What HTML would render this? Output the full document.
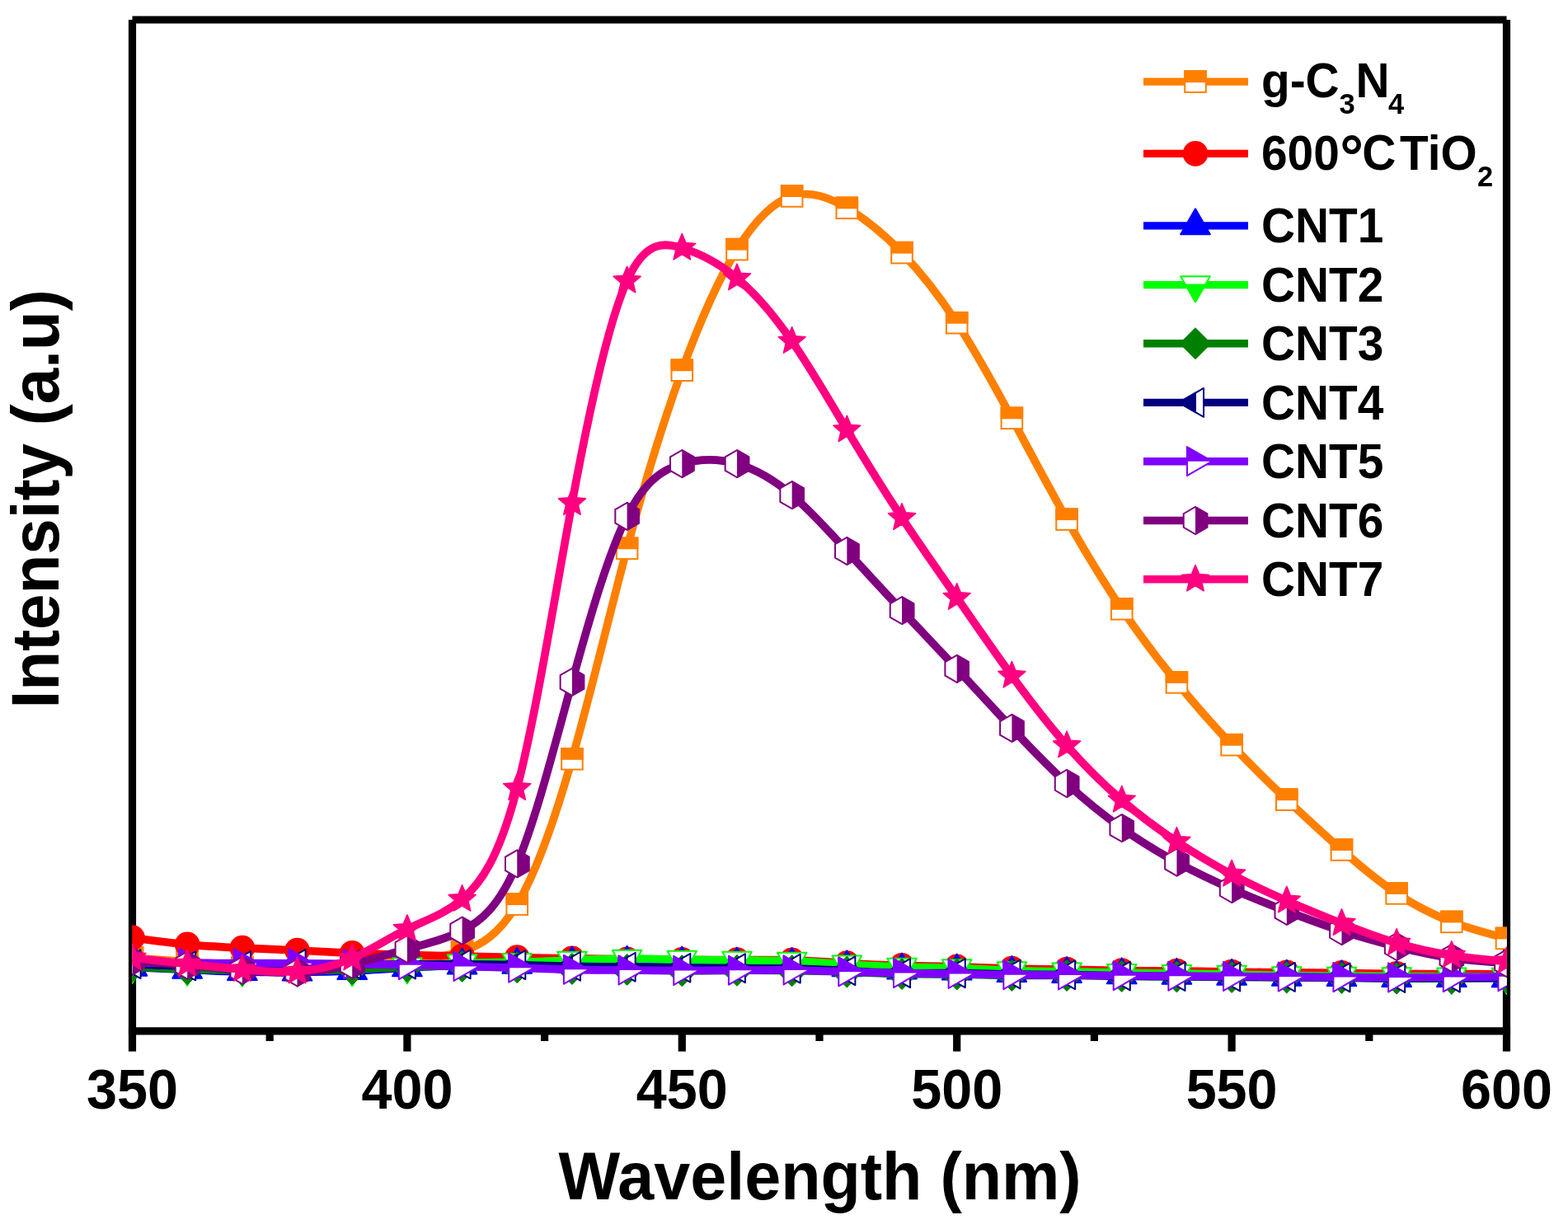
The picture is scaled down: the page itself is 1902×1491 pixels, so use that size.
<!DOCTYPE html>
<html><head><meta charset="utf-8"><title>PL spectra</title>
<style>html,body{margin:0;padding:0;background:#fff;overflow:hidden;}svg{display:block;}</style>
</head><body>
<svg width="1902" height="1491" viewBox="0 0 1902 1491">
<rect width="1902" height="1491" fill="#fff"/>
<defs><clipPath id="pa"><rect x="160.3" y="24.0" width="1667.6" height="1226.8"/></clipPath></defs>
<line x1="160.5" y1="24.0" x2="1827.5" y2="24.0" stroke="#000" stroke-width="9.2"/>
<line x1="160.5" y1="24.0" x2="160.5" y2="1250.8" stroke="#000" stroke-width="9.2"/>
<line x1="1827.5" y1="24.0" x2="1827.5" y2="1250.8" stroke="#000" stroke-width="9.2"/>
<line x1="155.9" y1="1250.8" x2="1832.1" y2="1250.8" stroke="#000" stroke-width="9.2"/>
<line x1="160.50" y1="1250.8" x2="160.50" y2="1275.6" stroke="#000" stroke-width="9.2"/>
<line x1="327.20" y1="1250.8" x2="327.20" y2="1263.0" stroke="#000" stroke-width="9.2"/>
<line x1="493.90" y1="1250.8" x2="493.90" y2="1275.6" stroke="#000" stroke-width="9.2"/>
<line x1="660.60" y1="1250.8" x2="660.60" y2="1263.0" stroke="#000" stroke-width="9.2"/>
<line x1="827.30" y1="1250.8" x2="827.30" y2="1275.6" stroke="#000" stroke-width="9.2"/>
<line x1="994.00" y1="1250.8" x2="994.00" y2="1263.0" stroke="#000" stroke-width="9.2"/>
<line x1="1160.70" y1="1250.8" x2="1160.70" y2="1275.6" stroke="#000" stroke-width="9.2"/>
<line x1="1327.40" y1="1250.8" x2="1327.40" y2="1263.0" stroke="#000" stroke-width="9.2"/>
<line x1="1494.10" y1="1250.8" x2="1494.10" y2="1275.6" stroke="#000" stroke-width="9.2"/>
<line x1="1660.80" y1="1250.8" x2="1660.80" y2="1263.0" stroke="#000" stroke-width="9.2"/>
<line x1="1827.50" y1="1250.8" x2="1827.50" y2="1275.6" stroke="#000" stroke-width="9.2"/>
<g clip-path="url(#pa)">
<path d="M160.50,1162.00C182.73,1163.50 204.95,1165.01 227.18,1167.00C249.41,1168.99 271.63,1171.48 293.86,1173.70C316.09,1175.92 338.31,1177.88 360.54,1177.80C382.77,1177.72 404.99,1175.62 427.22,1173.00C449.45,1170.38 471.67,1167.26 493.90,1165.00C516.13,1162.74 538.35,1161.34 560.58,1154.20C582.81,1147.06 605.03,1134.20 627.26,1097.10C649.49,1060.00 671.71,998.67 693.94,920.80C716.17,842.93 738.39,748.50 760.62,665.30C782.85,582.10 805.07,510.11 827.30,449.20C849.53,388.29 871.75,338.45 893.98,302.60C916.21,266.75 938.43,244.89 960.66,238.00C982.89,231.11 1005.11,239.19 1027.34,252.30C1049.57,265.41 1071.79,283.55 1094.02,306.60C1116.25,329.65 1138.47,357.59 1160.70,391.70C1182.93,425.81 1205.15,466.07 1227.38,507.30C1249.61,548.53 1271.83,590.74 1294.06,630.10C1316.29,669.46 1338.51,705.98 1360.74,738.80C1382.97,771.62 1405.19,800.75 1427.42,827.90C1449.65,855.05 1471.87,880.21 1494.10,903.70C1516.33,927.19 1538.55,949.01 1560.78,970.10C1583.01,991.19 1605.23,1011.54 1627.46,1031.00C1649.69,1050.46 1671.91,1069.03 1694.14,1083.90C1716.37,1098.77 1738.59,1109.93 1760.82,1118.40C1783.05,1126.87 1805.27,1132.63 1827.50,1138.40" fill="none" stroke="#FF8000" stroke-width="9.7" stroke-linejoin="round"/>
<rect x="147.70" y="1149.20" width="25.60" height="25.60" fill="#fff" stroke="#FF8000" stroke-width="2.0"/><rect x="146.70" y="1148.20" width="27.60" height="14.80" fill="#FF8000"/>
<rect x="214.38" y="1154.20" width="25.60" height="25.60" fill="#fff" stroke="#FF8000" stroke-width="2.0"/><rect x="213.38" y="1153.20" width="27.60" height="14.80" fill="#FF8000"/>
<rect x="281.06" y="1160.90" width="25.60" height="25.60" fill="#fff" stroke="#FF8000" stroke-width="2.0"/><rect x="280.06" y="1159.90" width="27.60" height="14.80" fill="#FF8000"/>
<rect x="347.74" y="1165.00" width="25.60" height="25.60" fill="#fff" stroke="#FF8000" stroke-width="2.0"/><rect x="346.74" y="1164.00" width="27.60" height="14.80" fill="#FF8000"/>
<rect x="414.42" y="1160.20" width="25.60" height="25.60" fill="#fff" stroke="#FF8000" stroke-width="2.0"/><rect x="413.42" y="1159.20" width="27.60" height="14.80" fill="#FF8000"/>
<rect x="481.10" y="1152.20" width="25.60" height="25.60" fill="#fff" stroke="#FF8000" stroke-width="2.0"/><rect x="480.10" y="1151.20" width="27.60" height="14.80" fill="#FF8000"/>
<rect x="547.78" y="1141.40" width="25.60" height="25.60" fill="#fff" stroke="#FF8000" stroke-width="2.0"/><rect x="546.78" y="1140.40" width="27.60" height="14.80" fill="#FF8000"/>
<rect x="614.46" y="1084.30" width="25.60" height="25.60" fill="#fff" stroke="#FF8000" stroke-width="2.0"/><rect x="613.46" y="1083.30" width="27.60" height="14.80" fill="#FF8000"/>
<rect x="681.14" y="908.00" width="25.60" height="25.60" fill="#fff" stroke="#FF8000" stroke-width="2.0"/><rect x="680.14" y="907.00" width="27.60" height="14.80" fill="#FF8000"/>
<rect x="747.82" y="652.50" width="25.60" height="25.60" fill="#fff" stroke="#FF8000" stroke-width="2.0"/><rect x="746.82" y="651.50" width="27.60" height="14.80" fill="#FF8000"/>
<rect x="814.50" y="436.40" width="25.60" height="25.60" fill="#fff" stroke="#FF8000" stroke-width="2.0"/><rect x="813.50" y="435.40" width="27.60" height="14.80" fill="#FF8000"/>
<rect x="881.18" y="289.80" width="25.60" height="25.60" fill="#fff" stroke="#FF8000" stroke-width="2.0"/><rect x="880.18" y="288.80" width="27.60" height="14.80" fill="#FF8000"/>
<rect x="947.86" y="225.20" width="25.60" height="25.60" fill="#fff" stroke="#FF8000" stroke-width="2.0"/><rect x="946.86" y="224.20" width="27.60" height="14.80" fill="#FF8000"/>
<rect x="1014.54" y="239.50" width="25.60" height="25.60" fill="#fff" stroke="#FF8000" stroke-width="2.0"/><rect x="1013.54" y="238.50" width="27.60" height="14.80" fill="#FF8000"/>
<rect x="1081.22" y="293.80" width="25.60" height="25.60" fill="#fff" stroke="#FF8000" stroke-width="2.0"/><rect x="1080.22" y="292.80" width="27.60" height="14.80" fill="#FF8000"/>
<rect x="1147.90" y="378.90" width="25.60" height="25.60" fill="#fff" stroke="#FF8000" stroke-width="2.0"/><rect x="1146.90" y="377.90" width="27.60" height="14.80" fill="#FF8000"/>
<rect x="1214.58" y="494.50" width="25.60" height="25.60" fill="#fff" stroke="#FF8000" stroke-width="2.0"/><rect x="1213.58" y="493.50" width="27.60" height="14.80" fill="#FF8000"/>
<rect x="1281.26" y="617.30" width="25.60" height="25.60" fill="#fff" stroke="#FF8000" stroke-width="2.0"/><rect x="1280.26" y="616.30" width="27.60" height="14.80" fill="#FF8000"/>
<rect x="1347.94" y="726.00" width="25.60" height="25.60" fill="#fff" stroke="#FF8000" stroke-width="2.0"/><rect x="1346.94" y="725.00" width="27.60" height="14.80" fill="#FF8000"/>
<rect x="1414.62" y="815.10" width="25.60" height="25.60" fill="#fff" stroke="#FF8000" stroke-width="2.0"/><rect x="1413.62" y="814.10" width="27.60" height="14.80" fill="#FF8000"/>
<rect x="1481.30" y="890.90" width="25.60" height="25.60" fill="#fff" stroke="#FF8000" stroke-width="2.0"/><rect x="1480.30" y="889.90" width="27.60" height="14.80" fill="#FF8000"/>
<rect x="1547.98" y="957.30" width="25.60" height="25.60" fill="#fff" stroke="#FF8000" stroke-width="2.0"/><rect x="1546.98" y="956.30" width="27.60" height="14.80" fill="#FF8000"/>
<rect x="1614.66" y="1018.20" width="25.60" height="25.60" fill="#fff" stroke="#FF8000" stroke-width="2.0"/><rect x="1613.66" y="1017.20" width="27.60" height="14.80" fill="#FF8000"/>
<rect x="1681.34" y="1071.10" width="25.60" height="25.60" fill="#fff" stroke="#FF8000" stroke-width="2.0"/><rect x="1680.34" y="1070.10" width="27.60" height="14.80" fill="#FF8000"/>
<rect x="1748.02" y="1105.60" width="25.60" height="25.60" fill="#fff" stroke="#FF8000" stroke-width="2.0"/><rect x="1747.02" y="1104.60" width="27.60" height="14.80" fill="#FF8000"/>
<rect x="1814.70" y="1125.60" width="25.60" height="25.60" fill="#fff" stroke="#FF8000" stroke-width="2.0"/><rect x="1813.70" y="1124.60" width="27.60" height="14.80" fill="#FF8000"/>
<path d="M160.50,1137.70C182.73,1140.70 204.95,1143.70 227.18,1145.80C249.41,1147.90 271.63,1149.10 293.86,1150.10C316.09,1151.10 338.31,1151.92 360.54,1153.00C382.77,1154.08 404.99,1155.43 427.22,1156.40C449.45,1157.37 471.67,1157.95 493.90,1158.50C516.13,1159.05 538.35,1159.58 560.58,1160.10C582.81,1160.62 605.03,1161.15 627.26,1161.60C649.49,1162.05 671.71,1162.42 693.94,1162.80C716.17,1163.18 738.39,1163.56 760.62,1163.80C782.85,1164.04 805.07,1164.12 827.30,1164.30C849.53,1164.48 871.75,1164.75 893.98,1164.70C916.21,1164.65 938.43,1164.27 960.66,1164.90C982.89,1165.53 1005.11,1167.18 1027.34,1168.50C1049.57,1169.82 1071.79,1170.81 1094.02,1171.40C1116.25,1171.99 1138.47,1172.17 1160.70,1172.80C1182.93,1173.43 1205.15,1174.51 1227.38,1175.10C1249.61,1175.69 1271.83,1175.80 1294.06,1176.20C1316.29,1176.60 1338.51,1177.29 1360.74,1177.60C1382.97,1177.91 1405.19,1177.82 1427.42,1178.00C1449.65,1178.18 1471.87,1178.62 1494.10,1179.00C1516.33,1179.38 1538.55,1179.72 1560.78,1179.90C1583.01,1180.08 1605.23,1180.12 1627.46,1180.40C1649.69,1180.68 1671.91,1181.21 1694.14,1181.40C1716.37,1181.59 1738.59,1181.46 1760.82,1181.50C1783.05,1181.54 1805.27,1181.77 1827.50,1182.00" fill="none" stroke="#FF0000" stroke-width="9.7" stroke-linejoin="round"/>
<circle cx="160.50" cy="1137.70" r="15.35" fill="#FF0000"/>
<circle cx="227.18" cy="1145.80" r="15.35" fill="#FF0000"/>
<circle cx="293.86" cy="1150.10" r="15.35" fill="#FF0000"/>
<circle cx="360.54" cy="1153.00" r="15.35" fill="#FF0000"/>
<circle cx="427.22" cy="1156.40" r="15.35" fill="#FF0000"/>
<circle cx="493.90" cy="1158.50" r="15.35" fill="#FF0000"/>
<circle cx="560.58" cy="1160.10" r="15.35" fill="#FF0000"/>
<circle cx="627.26" cy="1161.60" r="15.35" fill="#FF0000"/>
<circle cx="693.94" cy="1162.80" r="15.35" fill="#FF0000"/>
<circle cx="760.62" cy="1163.80" r="15.35" fill="#FF0000"/>
<circle cx="827.30" cy="1164.30" r="15.35" fill="#FF0000"/>
<circle cx="893.98" cy="1164.70" r="15.35" fill="#FF0000"/>
<circle cx="960.66" cy="1164.90" r="15.35" fill="#FF0000"/>
<circle cx="1027.34" cy="1168.50" r="15.35" fill="#FF0000"/>
<circle cx="1094.02" cy="1171.40" r="15.35" fill="#FF0000"/>
<circle cx="1160.70" cy="1172.80" r="15.35" fill="#FF0000"/>
<circle cx="1227.38" cy="1175.10" r="15.35" fill="#FF0000"/>
<circle cx="1294.06" cy="1176.20" r="15.35" fill="#FF0000"/>
<circle cx="1360.74" cy="1177.60" r="15.35" fill="#FF0000"/>
<circle cx="1427.42" cy="1178.00" r="15.35" fill="#FF0000"/>
<circle cx="1494.10" cy="1179.00" r="15.35" fill="#FF0000"/>
<circle cx="1560.78" cy="1179.90" r="15.35" fill="#FF0000"/>
<circle cx="1627.46" cy="1180.40" r="15.35" fill="#FF0000"/>
<circle cx="1694.14" cy="1181.40" r="15.35" fill="#FF0000"/>
<circle cx="1760.82" cy="1181.50" r="15.35" fill="#FF0000"/>
<circle cx="1827.50" cy="1182.00" r="15.35" fill="#FF0000"/>
<path d="M160.50,1173.40C182.73,1174.47 204.95,1175.54 227.18,1176.50C249.41,1177.46 271.63,1178.31 293.86,1178.80C316.09,1179.29 338.31,1179.43 360.54,1179.30C382.77,1179.17 404.99,1178.77 427.22,1177.80C449.45,1176.83 471.67,1175.30 493.90,1174.00C516.13,1172.70 538.35,1171.62 560.58,1171.10C582.81,1170.58 605.03,1170.63 627.26,1170.40C649.49,1170.17 671.71,1169.67 693.94,1169.20C716.17,1168.73 738.39,1168.30 760.62,1168.30C782.85,1168.30 805.07,1168.75 827.30,1169.20C849.53,1169.65 871.75,1170.10 893.98,1170.20C916.21,1170.30 938.43,1170.03 960.66,1170.60C982.89,1171.17 1005.11,1172.57 1027.34,1173.90C1049.57,1175.23 1071.79,1176.50 1094.02,1177.10C1116.25,1177.70 1138.47,1177.63 1160.70,1178.20C1182.93,1178.77 1205.15,1179.98 1227.38,1180.60C1249.61,1181.22 1271.83,1181.24 1294.06,1181.60C1316.29,1181.96 1338.51,1182.66 1360.74,1183.00C1382.97,1183.34 1405.19,1183.33 1427.42,1183.50C1449.65,1183.67 1471.87,1184.01 1494.10,1184.40C1516.33,1184.79 1538.55,1185.21 1560.78,1185.40C1583.01,1185.59 1605.23,1185.54 1627.46,1185.80C1649.69,1186.06 1671.91,1186.63 1694.14,1186.80C1716.37,1186.97 1738.59,1186.73 1760.82,1186.70C1783.05,1186.67 1805.27,1186.83 1827.50,1187.00" fill="none" stroke="#0000FF" stroke-width="9.7" stroke-linejoin="round"/>
<polygon points="160.50,1152.80 178.34,1183.70 142.66,1183.70" fill="#0000FF" stroke="#0000FF" stroke-width="2.0" stroke-linejoin="round"/>
<polygon points="227.18,1155.90 245.02,1186.80 209.34,1186.80" fill="#0000FF" stroke="#0000FF" stroke-width="2.0" stroke-linejoin="round"/>
<polygon points="293.86,1158.20 311.70,1189.10 276.02,1189.10" fill="#0000FF" stroke="#0000FF" stroke-width="2.0" stroke-linejoin="round"/>
<polygon points="360.54,1158.70 378.38,1189.60 342.70,1189.60" fill="#0000FF" stroke="#0000FF" stroke-width="2.0" stroke-linejoin="round"/>
<polygon points="427.22,1157.20 445.06,1188.10 409.38,1188.10" fill="#0000FF" stroke="#0000FF" stroke-width="2.0" stroke-linejoin="round"/>
<polygon points="493.90,1153.40 511.74,1184.30 476.06,1184.30" fill="#0000FF" stroke="#0000FF" stroke-width="2.0" stroke-linejoin="round"/>
<polygon points="560.58,1150.50 578.42,1181.40 542.74,1181.40" fill="#0000FF" stroke="#0000FF" stroke-width="2.0" stroke-linejoin="round"/>
<polygon points="627.26,1149.80 645.10,1180.70 609.42,1180.70" fill="#0000FF" stroke="#0000FF" stroke-width="2.0" stroke-linejoin="round"/>
<polygon points="693.94,1148.60 711.78,1179.50 676.10,1179.50" fill="#0000FF" stroke="#0000FF" stroke-width="2.0" stroke-linejoin="round"/>
<polygon points="760.62,1147.70 778.46,1178.60 742.78,1178.60" fill="#0000FF" stroke="#0000FF" stroke-width="2.0" stroke-linejoin="round"/>
<polygon points="827.30,1148.60 845.14,1179.50 809.46,1179.50" fill="#0000FF" stroke="#0000FF" stroke-width="2.0" stroke-linejoin="round"/>
<polygon points="893.98,1149.60 911.82,1180.50 876.14,1180.50" fill="#0000FF" stroke="#0000FF" stroke-width="2.0" stroke-linejoin="round"/>
<polygon points="960.66,1150.00 978.50,1180.90 942.82,1180.90" fill="#0000FF" stroke="#0000FF" stroke-width="2.0" stroke-linejoin="round"/>
<polygon points="1027.34,1153.30 1045.18,1184.20 1009.50,1184.20" fill="#0000FF" stroke="#0000FF" stroke-width="2.0" stroke-linejoin="round"/>
<polygon points="1094.02,1156.50 1111.86,1187.40 1076.18,1187.40" fill="#0000FF" stroke="#0000FF" stroke-width="2.0" stroke-linejoin="round"/>
<polygon points="1160.70,1157.60 1178.54,1188.50 1142.86,1188.50" fill="#0000FF" stroke="#0000FF" stroke-width="2.0" stroke-linejoin="round"/>
<polygon points="1227.38,1160.00 1245.22,1190.90 1209.54,1190.90" fill="#0000FF" stroke="#0000FF" stroke-width="2.0" stroke-linejoin="round"/>
<polygon points="1294.06,1161.00 1311.90,1191.90 1276.22,1191.90" fill="#0000FF" stroke="#0000FF" stroke-width="2.0" stroke-linejoin="round"/>
<polygon points="1360.74,1162.40 1378.58,1193.30 1342.90,1193.30" fill="#0000FF" stroke="#0000FF" stroke-width="2.0" stroke-linejoin="round"/>
<polygon points="1427.42,1162.90 1445.26,1193.80 1409.58,1193.80" fill="#0000FF" stroke="#0000FF" stroke-width="2.0" stroke-linejoin="round"/>
<polygon points="1494.10,1163.80 1511.94,1194.70 1476.26,1194.70" fill="#0000FF" stroke="#0000FF" stroke-width="2.0" stroke-linejoin="round"/>
<polygon points="1560.78,1164.80 1578.62,1195.70 1542.94,1195.70" fill="#0000FF" stroke="#0000FF" stroke-width="2.0" stroke-linejoin="round"/>
<polygon points="1627.46,1165.20 1645.30,1196.10 1609.62,1196.10" fill="#0000FF" stroke="#0000FF" stroke-width="2.0" stroke-linejoin="round"/>
<polygon points="1694.14,1166.20 1711.98,1197.10 1676.30,1197.10" fill="#0000FF" stroke="#0000FF" stroke-width="2.0" stroke-linejoin="round"/>
<polygon points="1760.82,1166.10 1778.66,1197.00 1742.98,1197.00" fill="#0000FF" stroke="#0000FF" stroke-width="2.0" stroke-linejoin="round"/>
<polygon points="1827.50,1166.40 1845.34,1197.30 1809.66,1197.30" fill="#0000FF" stroke="#0000FF" stroke-width="2.0" stroke-linejoin="round"/>
<path d="M160.50,1172.00C182.73,1173.17 204.95,1174.34 227.18,1175.00C249.41,1175.66 271.63,1175.81 293.86,1175.90C316.09,1175.99 338.31,1176.01 360.54,1176.00C382.77,1175.99 404.99,1175.93 427.22,1175.40C449.45,1174.87 471.67,1173.85 493.90,1172.50C516.13,1171.15 538.35,1169.47 560.58,1168.60C582.81,1167.73 605.03,1167.66 627.26,1167.20C649.49,1166.74 671.71,1165.88 693.94,1165.00C716.17,1164.12 738.39,1163.22 760.62,1163.10C782.85,1162.98 805.07,1163.63 827.30,1164.10C849.53,1164.57 871.75,1164.84 893.98,1165.00C916.21,1165.16 938.43,1165.19 960.66,1166.00C982.89,1166.81 1005.11,1168.38 1027.34,1169.80C1049.57,1171.22 1071.79,1172.47 1094.02,1173.10C1116.25,1173.73 1138.47,1173.73 1160.70,1174.50C1182.93,1175.27 1205.15,1176.80 1227.38,1177.60C1249.61,1178.40 1271.83,1178.46 1294.06,1178.80C1316.29,1179.14 1338.51,1179.75 1360.74,1180.20C1382.97,1180.65 1405.19,1180.95 1427.42,1181.20C1449.65,1181.45 1471.87,1181.64 1494.10,1182.10C1516.33,1182.56 1538.55,1183.27 1560.78,1183.60C1583.01,1183.93 1605.23,1183.88 1627.46,1184.00C1649.69,1184.12 1671.91,1184.42 1694.14,1184.60C1716.37,1184.78 1738.59,1184.85 1760.82,1184.90C1783.05,1184.95 1805.27,1184.97 1827.50,1185.00" fill="none" stroke="#00FF00" stroke-width="9.7" stroke-linejoin="round"/>
<polygon points="160.50,1192.60 142.66,1161.70 178.34,1161.70" fill="#fff" stroke="#00FF00" stroke-width="2.0" stroke-linejoin="round"/><clipPath id="h1"><rect x="130.50" y="1170.80" width="60.00" height="32.00"/></clipPath><polygon points="160.50,1192.60 142.66,1161.70 178.34,1161.70" fill="#00FF00" stroke="#00FF00" stroke-width="2.0" stroke-linejoin="round" clip-path="url(#h1)"/>
<polygon points="227.18,1195.60 209.34,1164.70 245.02,1164.70" fill="#fff" stroke="#00FF00" stroke-width="2.0" stroke-linejoin="round"/><clipPath id="h2"><rect x="197.18" y="1173.80" width="60.00" height="32.00"/></clipPath><polygon points="227.18,1195.60 209.34,1164.70 245.02,1164.70" fill="#00FF00" stroke="#00FF00" stroke-width="2.0" stroke-linejoin="round" clip-path="url(#h2)"/>
<polygon points="293.86,1196.50 276.02,1165.60 311.70,1165.60" fill="#fff" stroke="#00FF00" stroke-width="2.0" stroke-linejoin="round"/><clipPath id="h3"><rect x="263.86" y="1174.70" width="60.00" height="32.00"/></clipPath><polygon points="293.86,1196.50 276.02,1165.60 311.70,1165.60" fill="#00FF00" stroke="#00FF00" stroke-width="2.0" stroke-linejoin="round" clip-path="url(#h3)"/>
<polygon points="360.54,1196.60 342.70,1165.70 378.38,1165.70" fill="#fff" stroke="#00FF00" stroke-width="2.0" stroke-linejoin="round"/><clipPath id="h4"><rect x="330.54" y="1174.80" width="60.00" height="32.00"/></clipPath><polygon points="360.54,1196.60 342.70,1165.70 378.38,1165.70" fill="#00FF00" stroke="#00FF00" stroke-width="2.0" stroke-linejoin="round" clip-path="url(#h4)"/>
<polygon points="427.22,1196.00 409.38,1165.10 445.06,1165.10" fill="#fff" stroke="#00FF00" stroke-width="2.0" stroke-linejoin="round"/><clipPath id="h5"><rect x="397.22" y="1174.20" width="60.00" height="32.00"/></clipPath><polygon points="427.22,1196.00 409.38,1165.10 445.06,1165.10" fill="#00FF00" stroke="#00FF00" stroke-width="2.0" stroke-linejoin="round" clip-path="url(#h5)"/>
<polygon points="493.90,1193.10 476.06,1162.20 511.74,1162.20" fill="#fff" stroke="#00FF00" stroke-width="2.0" stroke-linejoin="round"/><clipPath id="h6"><rect x="463.90" y="1171.30" width="60.00" height="32.00"/></clipPath><polygon points="493.90,1193.10 476.06,1162.20 511.74,1162.20" fill="#00FF00" stroke="#00FF00" stroke-width="2.0" stroke-linejoin="round" clip-path="url(#h6)"/>
<polygon points="560.58,1189.20 542.74,1158.30 578.42,1158.30" fill="#fff" stroke="#00FF00" stroke-width="2.0" stroke-linejoin="round"/><clipPath id="h7"><rect x="530.58" y="1167.40" width="60.00" height="32.00"/></clipPath><polygon points="560.58,1189.20 542.74,1158.30 578.42,1158.30" fill="#00FF00" stroke="#00FF00" stroke-width="2.0" stroke-linejoin="round" clip-path="url(#h7)"/>
<polygon points="627.26,1187.80 609.42,1156.90 645.10,1156.90" fill="#fff" stroke="#00FF00" stroke-width="2.0" stroke-linejoin="round"/><clipPath id="h8"><rect x="597.26" y="1166.00" width="60.00" height="32.00"/></clipPath><polygon points="627.26,1187.80 609.42,1156.90 645.10,1156.90" fill="#00FF00" stroke="#00FF00" stroke-width="2.0" stroke-linejoin="round" clip-path="url(#h8)"/>
<polygon points="693.94,1185.60 676.10,1154.70 711.78,1154.70" fill="#fff" stroke="#00FF00" stroke-width="2.0" stroke-linejoin="round"/><clipPath id="h9"><rect x="663.94" y="1163.80" width="60.00" height="32.00"/></clipPath><polygon points="693.94,1185.60 676.10,1154.70 711.78,1154.70" fill="#00FF00" stroke="#00FF00" stroke-width="2.0" stroke-linejoin="round" clip-path="url(#h9)"/>
<polygon points="760.62,1183.70 742.78,1152.80 778.46,1152.80" fill="#fff" stroke="#00FF00" stroke-width="2.0" stroke-linejoin="round"/><clipPath id="h10"><rect x="730.62" y="1161.90" width="60.00" height="32.00"/></clipPath><polygon points="760.62,1183.70 742.78,1152.80 778.46,1152.80" fill="#00FF00" stroke="#00FF00" stroke-width="2.0" stroke-linejoin="round" clip-path="url(#h10)"/>
<polygon points="827.30,1184.70 809.46,1153.80 845.14,1153.80" fill="#fff" stroke="#00FF00" stroke-width="2.0" stroke-linejoin="round"/><clipPath id="h11"><rect x="797.30" y="1162.90" width="60.00" height="32.00"/></clipPath><polygon points="827.30,1184.70 809.46,1153.80 845.14,1153.80" fill="#00FF00" stroke="#00FF00" stroke-width="2.0" stroke-linejoin="round" clip-path="url(#h11)"/>
<polygon points="893.98,1185.60 876.14,1154.70 911.82,1154.70" fill="#fff" stroke="#00FF00" stroke-width="2.0" stroke-linejoin="round"/><clipPath id="h12"><rect x="863.98" y="1163.80" width="60.00" height="32.00"/></clipPath><polygon points="893.98,1185.60 876.14,1154.70 911.82,1154.70" fill="#00FF00" stroke="#00FF00" stroke-width="2.0" stroke-linejoin="round" clip-path="url(#h12)"/>
<polygon points="960.66,1186.60 942.82,1155.70 978.50,1155.70" fill="#fff" stroke="#00FF00" stroke-width="2.0" stroke-linejoin="round"/><clipPath id="h13"><rect x="930.66" y="1164.80" width="60.00" height="32.00"/></clipPath><polygon points="960.66,1186.60 942.82,1155.70 978.50,1155.70" fill="#00FF00" stroke="#00FF00" stroke-width="2.0" stroke-linejoin="round" clip-path="url(#h13)"/>
<polygon points="1027.34,1190.40 1009.50,1159.50 1045.18,1159.50" fill="#fff" stroke="#00FF00" stroke-width="2.0" stroke-linejoin="round"/><clipPath id="h14"><rect x="997.34" y="1168.60" width="60.00" height="32.00"/></clipPath><polygon points="1027.34,1190.40 1009.50,1159.50 1045.18,1159.50" fill="#00FF00" stroke="#00FF00" stroke-width="2.0" stroke-linejoin="round" clip-path="url(#h14)"/>
<polygon points="1094.02,1193.70 1076.18,1162.80 1111.86,1162.80" fill="#fff" stroke="#00FF00" stroke-width="2.0" stroke-linejoin="round"/><clipPath id="h15"><rect x="1064.02" y="1171.90" width="60.00" height="32.00"/></clipPath><polygon points="1094.02,1193.70 1076.18,1162.80 1111.86,1162.80" fill="#00FF00" stroke="#00FF00" stroke-width="2.0" stroke-linejoin="round" clip-path="url(#h15)"/>
<polygon points="1160.70,1195.10 1142.86,1164.20 1178.54,1164.20" fill="#fff" stroke="#00FF00" stroke-width="2.0" stroke-linejoin="round"/><clipPath id="h16"><rect x="1130.70" y="1173.30" width="60.00" height="32.00"/></clipPath><polygon points="1160.70,1195.10 1142.86,1164.20 1178.54,1164.20" fill="#00FF00" stroke="#00FF00" stroke-width="2.0" stroke-linejoin="round" clip-path="url(#h16)"/>
<polygon points="1227.38,1198.20 1209.54,1167.30 1245.22,1167.30" fill="#fff" stroke="#00FF00" stroke-width="2.0" stroke-linejoin="round"/><clipPath id="h17"><rect x="1197.38" y="1176.40" width="60.00" height="32.00"/></clipPath><polygon points="1227.38,1198.20 1209.54,1167.30 1245.22,1167.30" fill="#00FF00" stroke="#00FF00" stroke-width="2.0" stroke-linejoin="round" clip-path="url(#h17)"/>
<polygon points="1294.06,1199.40 1276.22,1168.50 1311.90,1168.50" fill="#fff" stroke="#00FF00" stroke-width="2.0" stroke-linejoin="round"/><clipPath id="h18"><rect x="1264.06" y="1177.60" width="60.00" height="32.00"/></clipPath><polygon points="1294.06,1199.40 1276.22,1168.50 1311.90,1168.50" fill="#00FF00" stroke="#00FF00" stroke-width="2.0" stroke-linejoin="round" clip-path="url(#h18)"/>
<polygon points="1360.74,1200.80 1342.90,1169.90 1378.58,1169.90" fill="#fff" stroke="#00FF00" stroke-width="2.0" stroke-linejoin="round"/><clipPath id="h19"><rect x="1330.74" y="1179.00" width="60.00" height="32.00"/></clipPath><polygon points="1360.74,1200.80 1342.90,1169.90 1378.58,1169.90" fill="#00FF00" stroke="#00FF00" stroke-width="2.0" stroke-linejoin="round" clip-path="url(#h19)"/>
<polygon points="1427.42,1201.80 1409.58,1170.90 1445.26,1170.90" fill="#fff" stroke="#00FF00" stroke-width="2.0" stroke-linejoin="round"/><clipPath id="h20"><rect x="1397.42" y="1180.00" width="60.00" height="32.00"/></clipPath><polygon points="1427.42,1201.80 1409.58,1170.90 1445.26,1170.90" fill="#00FF00" stroke="#00FF00" stroke-width="2.0" stroke-linejoin="round" clip-path="url(#h20)"/>
<polygon points="1494.10,1202.70 1476.26,1171.80 1511.94,1171.80" fill="#fff" stroke="#00FF00" stroke-width="2.0" stroke-linejoin="round"/><clipPath id="h21"><rect x="1464.10" y="1180.90" width="60.00" height="32.00"/></clipPath><polygon points="1494.10,1202.70 1476.26,1171.80 1511.94,1171.80" fill="#00FF00" stroke="#00FF00" stroke-width="2.0" stroke-linejoin="round" clip-path="url(#h21)"/>
<polygon points="1560.78,1204.20 1542.94,1173.30 1578.62,1173.30" fill="#fff" stroke="#00FF00" stroke-width="2.0" stroke-linejoin="round"/><clipPath id="h22"><rect x="1530.78" y="1182.40" width="60.00" height="32.00"/></clipPath><polygon points="1560.78,1204.20 1542.94,1173.30 1578.62,1173.30" fill="#00FF00" stroke="#00FF00" stroke-width="2.0" stroke-linejoin="round" clip-path="url(#h22)"/>
<polygon points="1627.46,1204.60 1609.62,1173.70 1645.30,1173.70" fill="#fff" stroke="#00FF00" stroke-width="2.0" stroke-linejoin="round"/><clipPath id="h23"><rect x="1597.46" y="1182.80" width="60.00" height="32.00"/></clipPath><polygon points="1627.46,1204.60 1609.62,1173.70 1645.30,1173.70" fill="#00FF00" stroke="#00FF00" stroke-width="2.0" stroke-linejoin="round" clip-path="url(#h23)"/>
<polygon points="1694.14,1205.20 1676.30,1174.30 1711.98,1174.30" fill="#fff" stroke="#00FF00" stroke-width="2.0" stroke-linejoin="round"/><clipPath id="h24"><rect x="1664.14" y="1183.40" width="60.00" height="32.00"/></clipPath><polygon points="1694.14,1205.20 1676.30,1174.30 1711.98,1174.30" fill="#00FF00" stroke="#00FF00" stroke-width="2.0" stroke-linejoin="round" clip-path="url(#h24)"/>
<polygon points="1760.82,1205.50 1742.98,1174.60 1778.66,1174.60" fill="#fff" stroke="#00FF00" stroke-width="2.0" stroke-linejoin="round"/><clipPath id="h25"><rect x="1730.82" y="1183.70" width="60.00" height="32.00"/></clipPath><polygon points="1760.82,1205.50 1742.98,1174.60 1778.66,1174.60" fill="#00FF00" stroke="#00FF00" stroke-width="2.0" stroke-linejoin="round" clip-path="url(#h25)"/>
<polygon points="1827.50,1205.60 1809.66,1174.70 1845.34,1174.70" fill="#fff" stroke="#00FF00" stroke-width="2.0" stroke-linejoin="round"/><clipPath id="h26"><rect x="1797.50" y="1183.80" width="60.00" height="32.00"/></clipPath><polygon points="1827.50,1205.60 1809.66,1174.70 1845.34,1174.70" fill="#00FF00" stroke="#00FF00" stroke-width="2.0" stroke-linejoin="round" clip-path="url(#h26)"/>
<path d="M160.50,1172.60C182.73,1173.86 204.95,1175.11 227.18,1175.80C249.41,1176.49 271.63,1176.60 293.86,1177.00C316.09,1177.40 338.31,1178.07 360.54,1178.00C382.77,1177.93 404.99,1177.10 427.22,1176.00C449.45,1174.90 471.67,1173.51 493.90,1172.80C516.13,1172.09 538.35,1172.05 560.58,1172.30C582.81,1172.55 605.03,1173.08 627.26,1173.70C649.49,1174.32 671.71,1175.01 693.94,1175.40C716.17,1175.79 738.39,1175.86 760.62,1176.30C782.85,1176.74 805.07,1177.53 827.30,1177.70C849.53,1177.87 871.75,1177.41 893.98,1177.30C916.21,1177.19 938.43,1177.41 960.66,1177.70C982.89,1177.99 1005.11,1178.34 1027.34,1179.10C1049.57,1179.86 1071.79,1181.04 1094.02,1181.50C1116.25,1181.96 1138.47,1181.71 1160.70,1182.00C1182.93,1182.29 1205.15,1183.13 1227.38,1183.40C1249.61,1183.67 1271.83,1183.39 1294.06,1183.50C1316.29,1183.61 1338.51,1184.11 1360.74,1184.40C1382.97,1184.69 1405.19,1184.76 1427.42,1184.90C1449.65,1185.04 1471.87,1185.24 1494.10,1185.40C1516.33,1185.56 1538.55,1185.67 1560.78,1185.80C1583.01,1185.93 1605.23,1186.09 1627.46,1186.30C1649.69,1186.51 1671.91,1186.78 1694.14,1187.00C1716.37,1187.22 1738.59,1187.38 1760.82,1187.20C1783.05,1187.02 1805.27,1186.51 1827.50,1186.00" fill="none" stroke="#008000" stroke-width="9.7" stroke-linejoin="round"/>
<polygon points="160.50,1153.60 179.50,1172.60 160.50,1191.60 141.50,1172.60" fill="#008000" stroke="#008000" stroke-width="1"/>
<polygon points="227.18,1156.80 246.18,1175.80 227.18,1194.80 208.18,1175.80" fill="#008000" stroke="#008000" stroke-width="1"/>
<polygon points="293.86,1158.00 312.86,1177.00 293.86,1196.00 274.86,1177.00" fill="#008000" stroke="#008000" stroke-width="1"/>
<polygon points="360.54,1159.00 379.54,1178.00 360.54,1197.00 341.54,1178.00" fill="#008000" stroke="#008000" stroke-width="1"/>
<polygon points="427.22,1157.00 446.22,1176.00 427.22,1195.00 408.22,1176.00" fill="#008000" stroke="#008000" stroke-width="1"/>
<polygon points="493.90,1153.80 512.90,1172.80 493.90,1191.80 474.90,1172.80" fill="#008000" stroke="#008000" stroke-width="1"/>
<polygon points="560.58,1153.30 579.58,1172.30 560.58,1191.30 541.58,1172.30" fill="#008000" stroke="#008000" stroke-width="1"/>
<polygon points="627.26,1154.70 646.26,1173.70 627.26,1192.70 608.26,1173.70" fill="#008000" stroke="#008000" stroke-width="1"/>
<polygon points="693.94,1156.40 712.94,1175.40 693.94,1194.40 674.94,1175.40" fill="#008000" stroke="#008000" stroke-width="1"/>
<polygon points="760.62,1157.30 779.62,1176.30 760.62,1195.30 741.62,1176.30" fill="#008000" stroke="#008000" stroke-width="1"/>
<polygon points="827.30,1158.70 846.30,1177.70 827.30,1196.70 808.30,1177.70" fill="#008000" stroke="#008000" stroke-width="1"/>
<polygon points="893.98,1158.30 912.98,1177.30 893.98,1196.30 874.98,1177.30" fill="#008000" stroke="#008000" stroke-width="1"/>
<polygon points="960.66,1158.70 979.66,1177.70 960.66,1196.70 941.66,1177.70" fill="#008000" stroke="#008000" stroke-width="1"/>
<polygon points="1027.34,1160.10 1046.34,1179.10 1027.34,1198.10 1008.34,1179.10" fill="#008000" stroke="#008000" stroke-width="1"/>
<polygon points="1094.02,1162.50 1113.02,1181.50 1094.02,1200.50 1075.02,1181.50" fill="#008000" stroke="#008000" stroke-width="1"/>
<polygon points="1160.70,1163.00 1179.70,1182.00 1160.70,1201.00 1141.70,1182.00" fill="#008000" stroke="#008000" stroke-width="1"/>
<polygon points="1227.38,1164.40 1246.38,1183.40 1227.38,1202.40 1208.38,1183.40" fill="#008000" stroke="#008000" stroke-width="1"/>
<polygon points="1294.06,1164.50 1313.06,1183.50 1294.06,1202.50 1275.06,1183.50" fill="#008000" stroke="#008000" stroke-width="1"/>
<polygon points="1360.74,1165.40 1379.74,1184.40 1360.74,1203.40 1341.74,1184.40" fill="#008000" stroke="#008000" stroke-width="1"/>
<polygon points="1427.42,1165.90 1446.42,1184.90 1427.42,1203.90 1408.42,1184.90" fill="#008000" stroke="#008000" stroke-width="1"/>
<polygon points="1494.10,1166.40 1513.10,1185.40 1494.10,1204.40 1475.10,1185.40" fill="#008000" stroke="#008000" stroke-width="1"/>
<polygon points="1560.78,1166.80 1579.78,1185.80 1560.78,1204.80 1541.78,1185.80" fill="#008000" stroke="#008000" stroke-width="1"/>
<polygon points="1627.46,1167.30 1646.46,1186.30 1627.46,1205.30 1608.46,1186.30" fill="#008000" stroke="#008000" stroke-width="1"/>
<polygon points="1694.14,1168.00 1713.14,1187.00 1694.14,1206.00 1675.14,1187.00" fill="#008000" stroke="#008000" stroke-width="1"/>
<polygon points="1760.82,1168.20 1779.82,1187.20 1760.82,1206.20 1741.82,1187.20" fill="#008000" stroke="#008000" stroke-width="1"/>
<polygon points="1827.50,1167.00 1846.50,1186.00 1827.50,1205.00 1808.50,1186.00" fill="#008000" stroke="#008000" stroke-width="1"/>
<path d="M160.50,1169.60C182.73,1170.55 204.95,1171.50 227.18,1171.90C249.41,1172.30 271.63,1172.16 293.86,1171.50C316.09,1170.84 338.31,1169.67 360.54,1169.40C382.77,1169.13 404.99,1169.76 427.22,1170.00C449.45,1170.24 471.67,1170.10 493.90,1170.00C516.13,1169.90 538.35,1169.84 560.58,1169.90C582.81,1169.96 605.03,1170.13 627.26,1170.60C649.49,1171.07 671.71,1171.84 693.94,1172.30C716.17,1172.76 738.39,1172.91 760.62,1173.20C782.85,1173.49 805.07,1173.93 827.30,1174.20C849.53,1174.47 871.75,1174.56 893.98,1174.60C916.21,1174.64 938.43,1174.62 960.66,1175.10C982.89,1175.58 1005.11,1176.54 1027.34,1177.70C1049.57,1178.86 1071.79,1180.20 1094.02,1180.60C1116.25,1181.00 1138.47,1180.45 1160.70,1180.60C1182.93,1180.75 1205.15,1181.62 1227.38,1182.00C1249.61,1182.38 1271.83,1182.29 1294.06,1182.60C1316.29,1182.91 1338.51,1183.63 1360.74,1184.00C1382.97,1184.37 1405.19,1184.38 1427.42,1184.50C1449.65,1184.62 1471.87,1184.84 1494.10,1185.00C1516.33,1185.16 1538.55,1185.27 1560.78,1185.40C1583.01,1185.53 1605.23,1185.67 1627.46,1185.90C1649.69,1186.13 1671.91,1186.45 1694.14,1186.50C1716.37,1186.55 1738.59,1186.33 1760.82,1186.20C1783.05,1186.07 1805.27,1186.04 1827.50,1186.00" fill="none" stroke="#000080" stroke-width="9.7" stroke-linejoin="round"/>
<polygon points="140.40,1169.60 170.55,1152.19 170.55,1187.01" fill="#fff" stroke="#000080" stroke-width="2.0" stroke-linejoin="round"/><clipPath id="h27"><rect x="130.50" y="1139.60" width="31.00" height="60.00"/></clipPath><polygon points="140.40,1169.60 170.55,1152.19 170.55,1187.01" fill="#000080" stroke="#000080" stroke-width="2.0" stroke-linejoin="round" clip-path="url(#h27)"/>
<polygon points="207.08,1171.90 237.23,1154.49 237.23,1189.31" fill="#fff" stroke="#000080" stroke-width="2.0" stroke-linejoin="round"/><clipPath id="h28"><rect x="197.18" y="1141.90" width="31.00" height="60.00"/></clipPath><polygon points="207.08,1171.90 237.23,1154.49 237.23,1189.31" fill="#000080" stroke="#000080" stroke-width="2.0" stroke-linejoin="round" clip-path="url(#h28)"/>
<polygon points="273.76,1171.50 303.91,1154.09 303.91,1188.91" fill="#fff" stroke="#000080" stroke-width="2.0" stroke-linejoin="round"/><clipPath id="h29"><rect x="263.86" y="1141.50" width="31.00" height="60.00"/></clipPath><polygon points="273.76,1171.50 303.91,1154.09 303.91,1188.91" fill="#000080" stroke="#000080" stroke-width="2.0" stroke-linejoin="round" clip-path="url(#h29)"/>
<polygon points="340.44,1169.40 370.59,1151.99 370.59,1186.81" fill="#fff" stroke="#000080" stroke-width="2.0" stroke-linejoin="round"/><clipPath id="h30"><rect x="330.54" y="1139.40" width="31.00" height="60.00"/></clipPath><polygon points="340.44,1169.40 370.59,1151.99 370.59,1186.81" fill="#000080" stroke="#000080" stroke-width="2.0" stroke-linejoin="round" clip-path="url(#h30)"/>
<polygon points="407.12,1170.00 437.27,1152.59 437.27,1187.41" fill="#fff" stroke="#000080" stroke-width="2.0" stroke-linejoin="round"/><clipPath id="h31"><rect x="397.22" y="1140.00" width="31.00" height="60.00"/></clipPath><polygon points="407.12,1170.00 437.27,1152.59 437.27,1187.41" fill="#000080" stroke="#000080" stroke-width="2.0" stroke-linejoin="round" clip-path="url(#h31)"/>
<polygon points="473.80,1170.00 503.95,1152.59 503.95,1187.41" fill="#fff" stroke="#000080" stroke-width="2.0" stroke-linejoin="round"/><clipPath id="h32"><rect x="463.90" y="1140.00" width="31.00" height="60.00"/></clipPath><polygon points="473.80,1170.00 503.95,1152.59 503.95,1187.41" fill="#000080" stroke="#000080" stroke-width="2.0" stroke-linejoin="round" clip-path="url(#h32)"/>
<polygon points="540.48,1169.90 570.63,1152.49 570.63,1187.31" fill="#fff" stroke="#000080" stroke-width="2.0" stroke-linejoin="round"/><clipPath id="h33"><rect x="530.58" y="1139.90" width="31.00" height="60.00"/></clipPath><polygon points="540.48,1169.90 570.63,1152.49 570.63,1187.31" fill="#000080" stroke="#000080" stroke-width="2.0" stroke-linejoin="round" clip-path="url(#h33)"/>
<polygon points="607.16,1170.60 637.31,1153.19 637.31,1188.01" fill="#fff" stroke="#000080" stroke-width="2.0" stroke-linejoin="round"/><clipPath id="h34"><rect x="597.26" y="1140.60" width="31.00" height="60.00"/></clipPath><polygon points="607.16,1170.60 637.31,1153.19 637.31,1188.01" fill="#000080" stroke="#000080" stroke-width="2.0" stroke-linejoin="round" clip-path="url(#h34)"/>
<polygon points="673.84,1172.30 703.99,1154.89 703.99,1189.71" fill="#fff" stroke="#000080" stroke-width="2.0" stroke-linejoin="round"/><clipPath id="h35"><rect x="663.94" y="1142.30" width="31.00" height="60.00"/></clipPath><polygon points="673.84,1172.30 703.99,1154.89 703.99,1189.71" fill="#000080" stroke="#000080" stroke-width="2.0" stroke-linejoin="round" clip-path="url(#h35)"/>
<polygon points="740.52,1173.20 770.67,1155.79 770.67,1190.61" fill="#fff" stroke="#000080" stroke-width="2.0" stroke-linejoin="round"/><clipPath id="h36"><rect x="730.62" y="1143.20" width="31.00" height="60.00"/></clipPath><polygon points="740.52,1173.20 770.67,1155.79 770.67,1190.61" fill="#000080" stroke="#000080" stroke-width="2.0" stroke-linejoin="round" clip-path="url(#h36)"/>
<polygon points="807.20,1174.20 837.35,1156.79 837.35,1191.61" fill="#fff" stroke="#000080" stroke-width="2.0" stroke-linejoin="round"/><clipPath id="h37"><rect x="797.30" y="1144.20" width="31.00" height="60.00"/></clipPath><polygon points="807.20,1174.20 837.35,1156.79 837.35,1191.61" fill="#000080" stroke="#000080" stroke-width="2.0" stroke-linejoin="round" clip-path="url(#h37)"/>
<polygon points="873.88,1174.60 904.03,1157.19 904.03,1192.01" fill="#fff" stroke="#000080" stroke-width="2.0" stroke-linejoin="round"/><clipPath id="h38"><rect x="863.98" y="1144.60" width="31.00" height="60.00"/></clipPath><polygon points="873.88,1174.60 904.03,1157.19 904.03,1192.01" fill="#000080" stroke="#000080" stroke-width="2.0" stroke-linejoin="round" clip-path="url(#h38)"/>
<polygon points="940.56,1175.10 970.71,1157.69 970.71,1192.51" fill="#fff" stroke="#000080" stroke-width="2.0" stroke-linejoin="round"/><clipPath id="h39"><rect x="930.66" y="1145.10" width="31.00" height="60.00"/></clipPath><polygon points="940.56,1175.10 970.71,1157.69 970.71,1192.51" fill="#000080" stroke="#000080" stroke-width="2.0" stroke-linejoin="round" clip-path="url(#h39)"/>
<polygon points="1007.24,1177.70 1037.39,1160.29 1037.39,1195.11" fill="#fff" stroke="#000080" stroke-width="2.0" stroke-linejoin="round"/><clipPath id="h40"><rect x="997.34" y="1147.70" width="31.00" height="60.00"/></clipPath><polygon points="1007.24,1177.70 1037.39,1160.29 1037.39,1195.11" fill="#000080" stroke="#000080" stroke-width="2.0" stroke-linejoin="round" clip-path="url(#h40)"/>
<polygon points="1073.92,1180.60 1104.07,1163.19 1104.07,1198.01" fill="#fff" stroke="#000080" stroke-width="2.0" stroke-linejoin="round"/><clipPath id="h41"><rect x="1064.02" y="1150.60" width="31.00" height="60.00"/></clipPath><polygon points="1073.92,1180.60 1104.07,1163.19 1104.07,1198.01" fill="#000080" stroke="#000080" stroke-width="2.0" stroke-linejoin="round" clip-path="url(#h41)"/>
<polygon points="1140.60,1180.60 1170.75,1163.19 1170.75,1198.01" fill="#fff" stroke="#000080" stroke-width="2.0" stroke-linejoin="round"/><clipPath id="h42"><rect x="1130.70" y="1150.60" width="31.00" height="60.00"/></clipPath><polygon points="1140.60,1180.60 1170.75,1163.19 1170.75,1198.01" fill="#000080" stroke="#000080" stroke-width="2.0" stroke-linejoin="round" clip-path="url(#h42)"/>
<polygon points="1207.28,1182.00 1237.43,1164.59 1237.43,1199.41" fill="#fff" stroke="#000080" stroke-width="2.0" stroke-linejoin="round"/><clipPath id="h43"><rect x="1197.38" y="1152.00" width="31.00" height="60.00"/></clipPath><polygon points="1207.28,1182.00 1237.43,1164.59 1237.43,1199.41" fill="#000080" stroke="#000080" stroke-width="2.0" stroke-linejoin="round" clip-path="url(#h43)"/>
<polygon points="1273.96,1182.60 1304.11,1165.19 1304.11,1200.01" fill="#fff" stroke="#000080" stroke-width="2.0" stroke-linejoin="round"/><clipPath id="h44"><rect x="1264.06" y="1152.60" width="31.00" height="60.00"/></clipPath><polygon points="1273.96,1182.60 1304.11,1165.19 1304.11,1200.01" fill="#000080" stroke="#000080" stroke-width="2.0" stroke-linejoin="round" clip-path="url(#h44)"/>
<polygon points="1340.64,1184.00 1370.79,1166.59 1370.79,1201.41" fill="#fff" stroke="#000080" stroke-width="2.0" stroke-linejoin="round"/><clipPath id="h45"><rect x="1330.74" y="1154.00" width="31.00" height="60.00"/></clipPath><polygon points="1340.64,1184.00 1370.79,1166.59 1370.79,1201.41" fill="#000080" stroke="#000080" stroke-width="2.0" stroke-linejoin="round" clip-path="url(#h45)"/>
<polygon points="1407.32,1184.50 1437.47,1167.09 1437.47,1201.91" fill="#fff" stroke="#000080" stroke-width="2.0" stroke-linejoin="round"/><clipPath id="h46"><rect x="1397.42" y="1154.50" width="31.00" height="60.00"/></clipPath><polygon points="1407.32,1184.50 1437.47,1167.09 1437.47,1201.91" fill="#000080" stroke="#000080" stroke-width="2.0" stroke-linejoin="round" clip-path="url(#h46)"/>
<polygon points="1474.00,1185.00 1504.15,1167.59 1504.15,1202.41" fill="#fff" stroke="#000080" stroke-width="2.0" stroke-linejoin="round"/><clipPath id="h47"><rect x="1464.10" y="1155.00" width="31.00" height="60.00"/></clipPath><polygon points="1474.00,1185.00 1504.15,1167.59 1504.15,1202.41" fill="#000080" stroke="#000080" stroke-width="2.0" stroke-linejoin="round" clip-path="url(#h47)"/>
<polygon points="1540.68,1185.40 1570.83,1167.99 1570.83,1202.81" fill="#fff" stroke="#000080" stroke-width="2.0" stroke-linejoin="round"/><clipPath id="h48"><rect x="1530.78" y="1155.40" width="31.00" height="60.00"/></clipPath><polygon points="1540.68,1185.40 1570.83,1167.99 1570.83,1202.81" fill="#000080" stroke="#000080" stroke-width="2.0" stroke-linejoin="round" clip-path="url(#h48)"/>
<polygon points="1607.36,1185.90 1637.51,1168.49 1637.51,1203.31" fill="#fff" stroke="#000080" stroke-width="2.0" stroke-linejoin="round"/><clipPath id="h49"><rect x="1597.46" y="1155.90" width="31.00" height="60.00"/></clipPath><polygon points="1607.36,1185.90 1637.51,1168.49 1637.51,1203.31" fill="#000080" stroke="#000080" stroke-width="2.0" stroke-linejoin="round" clip-path="url(#h49)"/>
<polygon points="1674.04,1186.50 1704.19,1169.09 1704.19,1203.91" fill="#fff" stroke="#000080" stroke-width="2.0" stroke-linejoin="round"/><clipPath id="h50"><rect x="1664.14" y="1156.50" width="31.00" height="60.00"/></clipPath><polygon points="1674.04,1186.50 1704.19,1169.09 1704.19,1203.91" fill="#000080" stroke="#000080" stroke-width="2.0" stroke-linejoin="round" clip-path="url(#h50)"/>
<polygon points="1740.72,1186.20 1770.87,1168.79 1770.87,1203.61" fill="#fff" stroke="#000080" stroke-width="2.0" stroke-linejoin="round"/><clipPath id="h51"><rect x="1730.82" y="1156.20" width="31.00" height="60.00"/></clipPath><polygon points="1740.72,1186.20 1770.87,1168.79 1770.87,1203.61" fill="#000080" stroke="#000080" stroke-width="2.0" stroke-linejoin="round" clip-path="url(#h51)"/>
<polygon points="1807.40,1186.00 1837.55,1168.59 1837.55,1203.41" fill="#fff" stroke="#000080" stroke-width="2.0" stroke-linejoin="round"/><clipPath id="h52"><rect x="1797.50" y="1156.00" width="31.00" height="60.00"/></clipPath><polygon points="1807.40,1186.00 1837.55,1168.59 1837.55,1203.41" fill="#000080" stroke="#000080" stroke-width="2.0" stroke-linejoin="round" clip-path="url(#h52)"/>
<path d="M160.50,1168.00C182.73,1168.02 204.95,1168.05 227.18,1168.20C249.41,1168.35 271.63,1168.63 293.86,1168.70C316.09,1168.77 338.31,1168.65 360.54,1168.80C382.77,1168.95 404.99,1169.38 427.22,1169.70C449.45,1170.02 471.67,1170.23 493.90,1170.70C516.13,1171.17 538.35,1171.91 560.58,1172.50C582.81,1173.09 605.03,1173.52 627.26,1174.20C649.49,1174.88 671.71,1175.81 693.94,1176.30C716.17,1176.79 738.39,1176.84 760.62,1177.00C782.85,1177.16 805.07,1177.44 827.30,1177.50C849.53,1177.56 871.75,1177.41 893.98,1177.20C916.21,1176.99 938.43,1176.70 960.66,1177.00C982.89,1177.30 1005.11,1178.17 1027.34,1178.90C1049.57,1179.63 1071.79,1180.23 1094.02,1180.60C1116.25,1180.97 1138.47,1181.13 1160.70,1181.50C1182.93,1181.87 1205.15,1182.45 1227.38,1182.70C1249.61,1182.95 1271.83,1182.87 1294.06,1183.00C1316.29,1183.13 1338.51,1183.46 1360.74,1183.70C1382.97,1183.94 1405.19,1184.10 1427.42,1184.20C1449.65,1184.30 1471.87,1184.35 1494.10,1184.50C1516.33,1184.65 1538.55,1184.91 1560.78,1185.10C1583.01,1185.29 1605.23,1185.43 1627.46,1185.60C1649.69,1185.77 1671.91,1185.98 1694.14,1186.00C1716.37,1186.02 1738.59,1185.83 1760.82,1185.60C1783.05,1185.37 1805.27,1185.08 1827.50,1184.80" fill="none" stroke="#8000FF" stroke-width="9.7" stroke-linejoin="round"/>
<polygon points="180.60,1168.00 150.45,1185.41 150.45,1150.59" fill="#fff" stroke="#8000FF" stroke-width="2.0" stroke-linejoin="round"/><clipPath id="h53"><rect x="130.50" y="1138.00" width="60.00" height="30.00"/></clipPath><polygon points="180.60,1168.00 150.45,1185.41 150.45,1150.59" fill="#8000FF" stroke="#8000FF" stroke-width="2.0" stroke-linejoin="round" clip-path="url(#h53)"/>
<polygon points="247.28,1168.20 217.13,1185.61 217.13,1150.79" fill="#fff" stroke="#8000FF" stroke-width="2.0" stroke-linejoin="round"/><clipPath id="h54"><rect x="197.18" y="1138.20" width="60.00" height="30.00"/></clipPath><polygon points="247.28,1168.20 217.13,1185.61 217.13,1150.79" fill="#8000FF" stroke="#8000FF" stroke-width="2.0" stroke-linejoin="round" clip-path="url(#h54)"/>
<polygon points="313.96,1168.70 283.81,1186.11 283.81,1151.29" fill="#fff" stroke="#8000FF" stroke-width="2.0" stroke-linejoin="round"/><clipPath id="h55"><rect x="263.86" y="1138.70" width="60.00" height="30.00"/></clipPath><polygon points="313.96,1168.70 283.81,1186.11 283.81,1151.29" fill="#8000FF" stroke="#8000FF" stroke-width="2.0" stroke-linejoin="round" clip-path="url(#h55)"/>
<polygon points="380.64,1168.80 350.49,1186.21 350.49,1151.39" fill="#fff" stroke="#8000FF" stroke-width="2.0" stroke-linejoin="round"/><clipPath id="h56"><rect x="330.54" y="1138.80" width="60.00" height="30.00"/></clipPath><polygon points="380.64,1168.80 350.49,1186.21 350.49,1151.39" fill="#8000FF" stroke="#8000FF" stroke-width="2.0" stroke-linejoin="round" clip-path="url(#h56)"/>
<polygon points="447.32,1169.70 417.17,1187.11 417.17,1152.29" fill="#fff" stroke="#8000FF" stroke-width="2.0" stroke-linejoin="round"/><clipPath id="h57"><rect x="397.22" y="1139.70" width="60.00" height="30.00"/></clipPath><polygon points="447.32,1169.70 417.17,1187.11 417.17,1152.29" fill="#8000FF" stroke="#8000FF" stroke-width="2.0" stroke-linejoin="round" clip-path="url(#h57)"/>
<polygon points="514.00,1170.70 483.85,1188.11 483.85,1153.29" fill="#fff" stroke="#8000FF" stroke-width="2.0" stroke-linejoin="round"/><clipPath id="h58"><rect x="463.90" y="1140.70" width="60.00" height="30.00"/></clipPath><polygon points="514.00,1170.70 483.85,1188.11 483.85,1153.29" fill="#8000FF" stroke="#8000FF" stroke-width="2.0" stroke-linejoin="round" clip-path="url(#h58)"/>
<polygon points="580.68,1172.50 550.53,1189.91 550.53,1155.09" fill="#fff" stroke="#8000FF" stroke-width="2.0" stroke-linejoin="round"/><clipPath id="h59"><rect x="530.58" y="1142.50" width="60.00" height="30.00"/></clipPath><polygon points="580.68,1172.50 550.53,1189.91 550.53,1155.09" fill="#8000FF" stroke="#8000FF" stroke-width="2.0" stroke-linejoin="round" clip-path="url(#h59)"/>
<polygon points="647.36,1174.20 617.21,1191.61 617.21,1156.79" fill="#fff" stroke="#8000FF" stroke-width="2.0" stroke-linejoin="round"/><clipPath id="h60"><rect x="597.26" y="1144.20" width="60.00" height="30.00"/></clipPath><polygon points="647.36,1174.20 617.21,1191.61 617.21,1156.79" fill="#8000FF" stroke="#8000FF" stroke-width="2.0" stroke-linejoin="round" clip-path="url(#h60)"/>
<polygon points="714.04,1176.30 683.89,1193.71 683.89,1158.89" fill="#fff" stroke="#8000FF" stroke-width="2.0" stroke-linejoin="round"/><clipPath id="h61"><rect x="663.94" y="1146.30" width="60.00" height="30.00"/></clipPath><polygon points="714.04,1176.30 683.89,1193.71 683.89,1158.89" fill="#8000FF" stroke="#8000FF" stroke-width="2.0" stroke-linejoin="round" clip-path="url(#h61)"/>
<polygon points="780.72,1177.00 750.57,1194.41 750.57,1159.59" fill="#fff" stroke="#8000FF" stroke-width="2.0" stroke-linejoin="round"/><clipPath id="h62"><rect x="730.62" y="1147.00" width="60.00" height="30.00"/></clipPath><polygon points="780.72,1177.00 750.57,1194.41 750.57,1159.59" fill="#8000FF" stroke="#8000FF" stroke-width="2.0" stroke-linejoin="round" clip-path="url(#h62)"/>
<polygon points="847.40,1177.50 817.25,1194.91 817.25,1160.09" fill="#fff" stroke="#8000FF" stroke-width="2.0" stroke-linejoin="round"/><clipPath id="h63"><rect x="797.30" y="1147.50" width="60.00" height="30.00"/></clipPath><polygon points="847.40,1177.50 817.25,1194.91 817.25,1160.09" fill="#8000FF" stroke="#8000FF" stroke-width="2.0" stroke-linejoin="round" clip-path="url(#h63)"/>
<polygon points="914.08,1177.20 883.93,1194.61 883.93,1159.79" fill="#fff" stroke="#8000FF" stroke-width="2.0" stroke-linejoin="round"/><clipPath id="h64"><rect x="863.98" y="1147.20" width="60.00" height="30.00"/></clipPath><polygon points="914.08,1177.20 883.93,1194.61 883.93,1159.79" fill="#8000FF" stroke="#8000FF" stroke-width="2.0" stroke-linejoin="round" clip-path="url(#h64)"/>
<polygon points="980.76,1177.00 950.61,1194.41 950.61,1159.59" fill="#fff" stroke="#8000FF" stroke-width="2.0" stroke-linejoin="round"/><clipPath id="h65"><rect x="930.66" y="1147.00" width="60.00" height="30.00"/></clipPath><polygon points="980.76,1177.00 950.61,1194.41 950.61,1159.59" fill="#8000FF" stroke="#8000FF" stroke-width="2.0" stroke-linejoin="round" clip-path="url(#h65)"/>
<polygon points="1047.44,1178.90 1017.29,1196.31 1017.29,1161.49" fill="#fff" stroke="#8000FF" stroke-width="2.0" stroke-linejoin="round"/><clipPath id="h66"><rect x="997.34" y="1148.90" width="60.00" height="30.00"/></clipPath><polygon points="1047.44,1178.90 1017.29,1196.31 1017.29,1161.49" fill="#8000FF" stroke="#8000FF" stroke-width="2.0" stroke-linejoin="round" clip-path="url(#h66)"/>
<polygon points="1114.12,1180.60 1083.97,1198.01 1083.97,1163.19" fill="#fff" stroke="#8000FF" stroke-width="2.0" stroke-linejoin="round"/><clipPath id="h67"><rect x="1064.02" y="1150.60" width="60.00" height="30.00"/></clipPath><polygon points="1114.12,1180.60 1083.97,1198.01 1083.97,1163.19" fill="#8000FF" stroke="#8000FF" stroke-width="2.0" stroke-linejoin="round" clip-path="url(#h67)"/>
<polygon points="1180.80,1181.50 1150.65,1198.91 1150.65,1164.09" fill="#fff" stroke="#8000FF" stroke-width="2.0" stroke-linejoin="round"/><clipPath id="h68"><rect x="1130.70" y="1151.50" width="60.00" height="30.00"/></clipPath><polygon points="1180.80,1181.50 1150.65,1198.91 1150.65,1164.09" fill="#8000FF" stroke="#8000FF" stroke-width="2.0" stroke-linejoin="round" clip-path="url(#h68)"/>
<polygon points="1247.48,1182.70 1217.33,1200.11 1217.33,1165.29" fill="#fff" stroke="#8000FF" stroke-width="2.0" stroke-linejoin="round"/><clipPath id="h69"><rect x="1197.38" y="1152.70" width="60.00" height="30.00"/></clipPath><polygon points="1247.48,1182.70 1217.33,1200.11 1217.33,1165.29" fill="#8000FF" stroke="#8000FF" stroke-width="2.0" stroke-linejoin="round" clip-path="url(#h69)"/>
<polygon points="1314.16,1183.00 1284.01,1200.41 1284.01,1165.59" fill="#fff" stroke="#8000FF" stroke-width="2.0" stroke-linejoin="round"/><clipPath id="h70"><rect x="1264.06" y="1153.00" width="60.00" height="30.00"/></clipPath><polygon points="1314.16,1183.00 1284.01,1200.41 1284.01,1165.59" fill="#8000FF" stroke="#8000FF" stroke-width="2.0" stroke-linejoin="round" clip-path="url(#h70)"/>
<polygon points="1380.84,1183.70 1350.69,1201.11 1350.69,1166.29" fill="#fff" stroke="#8000FF" stroke-width="2.0" stroke-linejoin="round"/><clipPath id="h71"><rect x="1330.74" y="1153.70" width="60.00" height="30.00"/></clipPath><polygon points="1380.84,1183.70 1350.69,1201.11 1350.69,1166.29" fill="#8000FF" stroke="#8000FF" stroke-width="2.0" stroke-linejoin="round" clip-path="url(#h71)"/>
<polygon points="1447.52,1184.20 1417.37,1201.61 1417.37,1166.79" fill="#fff" stroke="#8000FF" stroke-width="2.0" stroke-linejoin="round"/><clipPath id="h72"><rect x="1397.42" y="1154.20" width="60.00" height="30.00"/></clipPath><polygon points="1447.52,1184.20 1417.37,1201.61 1417.37,1166.79" fill="#8000FF" stroke="#8000FF" stroke-width="2.0" stroke-linejoin="round" clip-path="url(#h72)"/>
<polygon points="1514.20,1184.50 1484.05,1201.91 1484.05,1167.09" fill="#fff" stroke="#8000FF" stroke-width="2.0" stroke-linejoin="round"/><clipPath id="h73"><rect x="1464.10" y="1154.50" width="60.00" height="30.00"/></clipPath><polygon points="1514.20,1184.50 1484.05,1201.91 1484.05,1167.09" fill="#8000FF" stroke="#8000FF" stroke-width="2.0" stroke-linejoin="round" clip-path="url(#h73)"/>
<polygon points="1580.88,1185.10 1550.73,1202.51 1550.73,1167.69" fill="#fff" stroke="#8000FF" stroke-width="2.0" stroke-linejoin="round"/><clipPath id="h74"><rect x="1530.78" y="1155.10" width="60.00" height="30.00"/></clipPath><polygon points="1580.88,1185.10 1550.73,1202.51 1550.73,1167.69" fill="#8000FF" stroke="#8000FF" stroke-width="2.0" stroke-linejoin="round" clip-path="url(#h74)"/>
<polygon points="1647.56,1185.60 1617.41,1203.01 1617.41,1168.19" fill="#fff" stroke="#8000FF" stroke-width="2.0" stroke-linejoin="round"/><clipPath id="h75"><rect x="1597.46" y="1155.60" width="60.00" height="30.00"/></clipPath><polygon points="1647.56,1185.60 1617.41,1203.01 1617.41,1168.19" fill="#8000FF" stroke="#8000FF" stroke-width="2.0" stroke-linejoin="round" clip-path="url(#h75)"/>
<polygon points="1714.24,1186.00 1684.09,1203.41 1684.09,1168.59" fill="#fff" stroke="#8000FF" stroke-width="2.0" stroke-linejoin="round"/><clipPath id="h76"><rect x="1664.14" y="1156.00" width="60.00" height="30.00"/></clipPath><polygon points="1714.24,1186.00 1684.09,1203.41 1684.09,1168.59" fill="#8000FF" stroke="#8000FF" stroke-width="2.0" stroke-linejoin="round" clip-path="url(#h76)"/>
<polygon points="1780.92,1185.60 1750.77,1203.01 1750.77,1168.19" fill="#fff" stroke="#8000FF" stroke-width="2.0" stroke-linejoin="round"/><clipPath id="h77"><rect x="1730.82" y="1155.60" width="60.00" height="30.00"/></clipPath><polygon points="1780.92,1185.60 1750.77,1203.01 1750.77,1168.19" fill="#8000FF" stroke="#8000FF" stroke-width="2.0" stroke-linejoin="round" clip-path="url(#h77)"/>
<polygon points="1847.60,1184.80 1817.45,1202.21 1817.45,1167.39" fill="#fff" stroke="#8000FF" stroke-width="2.0" stroke-linejoin="round"/><clipPath id="h78"><rect x="1797.50" y="1154.80" width="60.00" height="30.00"/></clipPath><polygon points="1847.60,1184.80 1817.45,1202.21 1817.45,1167.39" fill="#8000FF" stroke="#8000FF" stroke-width="2.0" stroke-linejoin="round" clip-path="url(#h78)"/>
<path d="M160.50,1166.00C182.73,1167.53 204.95,1169.07 227.18,1171.00C249.41,1172.93 271.63,1175.27 293.86,1177.20C316.09,1179.13 338.31,1180.66 360.54,1179.80C382.77,1178.94 404.99,1175.68 427.22,1170.30C449.45,1164.92 471.67,1157.42 493.90,1151.30C516.13,1145.18 538.35,1140.44 560.58,1129.20C582.81,1117.96 605.03,1100.23 627.26,1047.90C649.49,995.57 671.71,908.63 693.94,827.40C716.17,746.17 738.39,670.65 760.62,626.40C782.85,582.15 805.07,569.16 827.30,562.70C849.53,556.24 871.75,556.29 893.98,562.70C916.21,569.11 938.43,581.86 960.66,600.60C982.89,619.34 1005.11,644.08 1027.34,668.50C1049.57,692.92 1071.79,717.04 1094.02,740.70C1116.25,764.36 1138.47,787.57 1160.70,811.40C1182.93,835.23 1205.15,859.70 1227.38,883.40C1249.61,907.10 1271.83,930.04 1294.06,950.50C1316.29,970.96 1338.51,988.94 1360.74,1004.70C1382.97,1020.46 1405.19,1034.01 1427.42,1046.10C1449.65,1058.19 1471.87,1068.83 1494.10,1078.50C1516.33,1088.17 1538.55,1096.88 1560.78,1105.40C1583.01,1113.92 1605.23,1122.25 1627.46,1129.50C1649.69,1136.75 1671.91,1142.93 1694.14,1148.50C1716.37,1154.07 1738.59,1159.05 1760.82,1162.30C1783.05,1165.55 1805.27,1167.08 1827.50,1168.60" fill="none" stroke="#800080" stroke-width="9.7" stroke-linejoin="round"/>
<polygon points="160.50,1149.50 174.79,1157.75 174.79,1174.25 160.50,1182.50 146.21,1174.25 146.21,1157.75" fill="#fff" stroke="#800080" stroke-width="2.0"/><clipPath id="h79"><rect x="160.50" y="1136.00" width="30.00" height="60.00"/></clipPath><polygon points="160.50,1149.50 174.79,1157.75 174.79,1174.25 160.50,1182.50 146.21,1174.25 146.21,1157.75" fill="#800080" stroke="#800080" stroke-width="2.0" stroke-linejoin="round" clip-path="url(#h79)"/>
<polygon points="227.18,1154.50 241.47,1162.75 241.47,1179.25 227.18,1187.50 212.89,1179.25 212.89,1162.75" fill="#fff" stroke="#800080" stroke-width="2.0"/><clipPath id="h80"><rect x="227.18" y="1141.00" width="30.00" height="60.00"/></clipPath><polygon points="227.18,1154.50 241.47,1162.75 241.47,1179.25 227.18,1187.50 212.89,1179.25 212.89,1162.75" fill="#800080" stroke="#800080" stroke-width="2.0" stroke-linejoin="round" clip-path="url(#h80)"/>
<polygon points="293.86,1160.70 308.15,1168.95 308.15,1185.45 293.86,1193.70 279.57,1185.45 279.57,1168.95" fill="#fff" stroke="#800080" stroke-width="2.0"/><clipPath id="h81"><rect x="293.86" y="1147.20" width="30.00" height="60.00"/></clipPath><polygon points="293.86,1160.70 308.15,1168.95 308.15,1185.45 293.86,1193.70 279.57,1185.45 279.57,1168.95" fill="#800080" stroke="#800080" stroke-width="2.0" stroke-linejoin="round" clip-path="url(#h81)"/>
<polygon points="360.54,1163.30 374.83,1171.55 374.83,1188.05 360.54,1196.30 346.25,1188.05 346.25,1171.55" fill="#fff" stroke="#800080" stroke-width="2.0"/><clipPath id="h82"><rect x="360.54" y="1149.80" width="30.00" height="60.00"/></clipPath><polygon points="360.54,1163.30 374.83,1171.55 374.83,1188.05 360.54,1196.30 346.25,1188.05 346.25,1171.55" fill="#800080" stroke="#800080" stroke-width="2.0" stroke-linejoin="round" clip-path="url(#h82)"/>
<polygon points="427.22,1153.80 441.51,1162.05 441.51,1178.55 427.22,1186.80 412.93,1178.55 412.93,1162.05" fill="#fff" stroke="#800080" stroke-width="2.0"/><clipPath id="h83"><rect x="427.22" y="1140.30" width="30.00" height="60.00"/></clipPath><polygon points="427.22,1153.80 441.51,1162.05 441.51,1178.55 427.22,1186.80 412.93,1178.55 412.93,1162.05" fill="#800080" stroke="#800080" stroke-width="2.0" stroke-linejoin="round" clip-path="url(#h83)"/>
<polygon points="493.90,1134.80 508.19,1143.05 508.19,1159.55 493.90,1167.80 479.61,1159.55 479.61,1143.05" fill="#fff" stroke="#800080" stroke-width="2.0"/><clipPath id="h84"><rect x="493.90" y="1121.30" width="30.00" height="60.00"/></clipPath><polygon points="493.90,1134.80 508.19,1143.05 508.19,1159.55 493.90,1167.80 479.61,1159.55 479.61,1143.05" fill="#800080" stroke="#800080" stroke-width="2.0" stroke-linejoin="round" clip-path="url(#h84)"/>
<polygon points="560.58,1112.70 574.87,1120.95 574.87,1137.45 560.58,1145.70 546.29,1137.45 546.29,1120.95" fill="#fff" stroke="#800080" stroke-width="2.0"/><clipPath id="h85"><rect x="560.58" y="1099.20" width="30.00" height="60.00"/></clipPath><polygon points="560.58,1112.70 574.87,1120.95 574.87,1137.45 560.58,1145.70 546.29,1137.45 546.29,1120.95" fill="#800080" stroke="#800080" stroke-width="2.0" stroke-linejoin="round" clip-path="url(#h85)"/>
<polygon points="627.26,1031.40 641.55,1039.65 641.55,1056.15 627.26,1064.40 612.97,1056.15 612.97,1039.65" fill="#fff" stroke="#800080" stroke-width="2.0"/><clipPath id="h86"><rect x="627.26" y="1017.90" width="30.00" height="60.00"/></clipPath><polygon points="627.26,1031.40 641.55,1039.65 641.55,1056.15 627.26,1064.40 612.97,1056.15 612.97,1039.65" fill="#800080" stroke="#800080" stroke-width="2.0" stroke-linejoin="round" clip-path="url(#h86)"/>
<polygon points="693.94,810.90 708.23,819.15 708.23,835.65 693.94,843.90 679.65,835.65 679.65,819.15" fill="#fff" stroke="#800080" stroke-width="2.0"/><clipPath id="h87"><rect x="693.94" y="797.40" width="30.00" height="60.00"/></clipPath><polygon points="693.94,810.90 708.23,819.15 708.23,835.65 693.94,843.90 679.65,835.65 679.65,819.15" fill="#800080" stroke="#800080" stroke-width="2.0" stroke-linejoin="round" clip-path="url(#h87)"/>
<polygon points="760.62,609.90 774.91,618.15 774.91,634.65 760.62,642.90 746.33,634.65 746.33,618.15" fill="#fff" stroke="#800080" stroke-width="2.0"/><clipPath id="h88"><rect x="760.62" y="596.40" width="30.00" height="60.00"/></clipPath><polygon points="760.62,609.90 774.91,618.15 774.91,634.65 760.62,642.90 746.33,634.65 746.33,618.15" fill="#800080" stroke="#800080" stroke-width="2.0" stroke-linejoin="round" clip-path="url(#h88)"/>
<polygon points="827.30,546.20 841.59,554.45 841.59,570.95 827.30,579.20 813.01,570.95 813.01,554.45" fill="#fff" stroke="#800080" stroke-width="2.0"/><clipPath id="h89"><rect x="827.30" y="532.70" width="30.00" height="60.00"/></clipPath><polygon points="827.30,546.20 841.59,554.45 841.59,570.95 827.30,579.20 813.01,570.95 813.01,554.45" fill="#800080" stroke="#800080" stroke-width="2.0" stroke-linejoin="round" clip-path="url(#h89)"/>
<polygon points="893.98,546.20 908.27,554.45 908.27,570.95 893.98,579.20 879.69,570.95 879.69,554.45" fill="#fff" stroke="#800080" stroke-width="2.0"/><clipPath id="h90"><rect x="893.98" y="532.70" width="30.00" height="60.00"/></clipPath><polygon points="893.98,546.20 908.27,554.45 908.27,570.95 893.98,579.20 879.69,570.95 879.69,554.45" fill="#800080" stroke="#800080" stroke-width="2.0" stroke-linejoin="round" clip-path="url(#h90)"/>
<polygon points="960.66,584.10 974.95,592.35 974.95,608.85 960.66,617.10 946.37,608.85 946.37,592.35" fill="#fff" stroke="#800080" stroke-width="2.0"/><clipPath id="h91"><rect x="960.66" y="570.60" width="30.00" height="60.00"/></clipPath><polygon points="960.66,584.10 974.95,592.35 974.95,608.85 960.66,617.10 946.37,608.85 946.37,592.35" fill="#800080" stroke="#800080" stroke-width="2.0" stroke-linejoin="round" clip-path="url(#h91)"/>
<polygon points="1027.34,652.00 1041.63,660.25 1041.63,676.75 1027.34,685.00 1013.05,676.75 1013.05,660.25" fill="#fff" stroke="#800080" stroke-width="2.0"/><clipPath id="h92"><rect x="1027.34" y="638.50" width="30.00" height="60.00"/></clipPath><polygon points="1027.34,652.00 1041.63,660.25 1041.63,676.75 1027.34,685.00 1013.05,676.75 1013.05,660.25" fill="#800080" stroke="#800080" stroke-width="2.0" stroke-linejoin="round" clip-path="url(#h92)"/>
<polygon points="1094.02,724.20 1108.31,732.45 1108.31,748.95 1094.02,757.20 1079.73,748.95 1079.73,732.45" fill="#fff" stroke="#800080" stroke-width="2.0"/><clipPath id="h93"><rect x="1094.02" y="710.70" width="30.00" height="60.00"/></clipPath><polygon points="1094.02,724.20 1108.31,732.45 1108.31,748.95 1094.02,757.20 1079.73,748.95 1079.73,732.45" fill="#800080" stroke="#800080" stroke-width="2.0" stroke-linejoin="round" clip-path="url(#h93)"/>
<polygon points="1160.70,794.90 1174.99,803.15 1174.99,819.65 1160.70,827.90 1146.41,819.65 1146.41,803.15" fill="#fff" stroke="#800080" stroke-width="2.0"/><clipPath id="h94"><rect x="1160.70" y="781.40" width="30.00" height="60.00"/></clipPath><polygon points="1160.70,794.90 1174.99,803.15 1174.99,819.65 1160.70,827.90 1146.41,819.65 1146.41,803.15" fill="#800080" stroke="#800080" stroke-width="2.0" stroke-linejoin="round" clip-path="url(#h94)"/>
<polygon points="1227.38,866.90 1241.67,875.15 1241.67,891.65 1227.38,899.90 1213.09,891.65 1213.09,875.15" fill="#fff" stroke="#800080" stroke-width="2.0"/><clipPath id="h95"><rect x="1227.38" y="853.40" width="30.00" height="60.00"/></clipPath><polygon points="1227.38,866.90 1241.67,875.15 1241.67,891.65 1227.38,899.90 1213.09,891.65 1213.09,875.15" fill="#800080" stroke="#800080" stroke-width="2.0" stroke-linejoin="round" clip-path="url(#h95)"/>
<polygon points="1294.06,934.00 1308.35,942.25 1308.35,958.75 1294.06,967.00 1279.77,958.75 1279.77,942.25" fill="#fff" stroke="#800080" stroke-width="2.0"/><clipPath id="h96"><rect x="1294.06" y="920.50" width="30.00" height="60.00"/></clipPath><polygon points="1294.06,934.00 1308.35,942.25 1308.35,958.75 1294.06,967.00 1279.77,958.75 1279.77,942.25" fill="#800080" stroke="#800080" stroke-width="2.0" stroke-linejoin="round" clip-path="url(#h96)"/>
<polygon points="1360.74,988.20 1375.03,996.45 1375.03,1012.95 1360.74,1021.20 1346.45,1012.95 1346.45,996.45" fill="#fff" stroke="#800080" stroke-width="2.0"/><clipPath id="h97"><rect x="1360.74" y="974.70" width="30.00" height="60.00"/></clipPath><polygon points="1360.74,988.20 1375.03,996.45 1375.03,1012.95 1360.74,1021.20 1346.45,1012.95 1346.45,996.45" fill="#800080" stroke="#800080" stroke-width="2.0" stroke-linejoin="round" clip-path="url(#h97)"/>
<polygon points="1427.42,1029.60 1441.71,1037.85 1441.71,1054.35 1427.42,1062.60 1413.13,1054.35 1413.13,1037.85" fill="#fff" stroke="#800080" stroke-width="2.0"/><clipPath id="h98"><rect x="1427.42" y="1016.10" width="30.00" height="60.00"/></clipPath><polygon points="1427.42,1029.60 1441.71,1037.85 1441.71,1054.35 1427.42,1062.60 1413.13,1054.35 1413.13,1037.85" fill="#800080" stroke="#800080" stroke-width="2.0" stroke-linejoin="round" clip-path="url(#h98)"/>
<polygon points="1494.10,1062.00 1508.39,1070.25 1508.39,1086.75 1494.10,1095.00 1479.81,1086.75 1479.81,1070.25" fill="#fff" stroke="#800080" stroke-width="2.0"/><clipPath id="h99"><rect x="1494.10" y="1048.50" width="30.00" height="60.00"/></clipPath><polygon points="1494.10,1062.00 1508.39,1070.25 1508.39,1086.75 1494.10,1095.00 1479.81,1086.75 1479.81,1070.25" fill="#800080" stroke="#800080" stroke-width="2.0" stroke-linejoin="round" clip-path="url(#h99)"/>
<polygon points="1560.78,1088.90 1575.07,1097.15 1575.07,1113.65 1560.78,1121.90 1546.49,1113.65 1546.49,1097.15" fill="#fff" stroke="#800080" stroke-width="2.0"/><clipPath id="h100"><rect x="1560.78" y="1075.40" width="30.00" height="60.00"/></clipPath><polygon points="1560.78,1088.90 1575.07,1097.15 1575.07,1113.65 1560.78,1121.90 1546.49,1113.65 1546.49,1097.15" fill="#800080" stroke="#800080" stroke-width="2.0" stroke-linejoin="round" clip-path="url(#h100)"/>
<polygon points="1627.46,1113.00 1641.75,1121.25 1641.75,1137.75 1627.46,1146.00 1613.17,1137.75 1613.17,1121.25" fill="#fff" stroke="#800080" stroke-width="2.0"/><clipPath id="h101"><rect x="1627.46" y="1099.50" width="30.00" height="60.00"/></clipPath><polygon points="1627.46,1113.00 1641.75,1121.25 1641.75,1137.75 1627.46,1146.00 1613.17,1137.75 1613.17,1121.25" fill="#800080" stroke="#800080" stroke-width="2.0" stroke-linejoin="round" clip-path="url(#h101)"/>
<polygon points="1694.14,1132.00 1708.43,1140.25 1708.43,1156.75 1694.14,1165.00 1679.85,1156.75 1679.85,1140.25" fill="#fff" stroke="#800080" stroke-width="2.0"/><clipPath id="h102"><rect x="1694.14" y="1118.50" width="30.00" height="60.00"/></clipPath><polygon points="1694.14,1132.00 1708.43,1140.25 1708.43,1156.75 1694.14,1165.00 1679.85,1156.75 1679.85,1140.25" fill="#800080" stroke="#800080" stroke-width="2.0" stroke-linejoin="round" clip-path="url(#h102)"/>
<polygon points="1760.82,1145.80 1775.11,1154.05 1775.11,1170.55 1760.82,1178.80 1746.53,1170.55 1746.53,1154.05" fill="#fff" stroke="#800080" stroke-width="2.0"/><clipPath id="h103"><rect x="1760.82" y="1132.30" width="30.00" height="60.00"/></clipPath><polygon points="1760.82,1145.80 1775.11,1154.05 1775.11,1170.55 1760.82,1178.80 1746.53,1170.55 1746.53,1154.05" fill="#800080" stroke="#800080" stroke-width="2.0" stroke-linejoin="round" clip-path="url(#h103)"/>
<polygon points="1827.50,1152.10 1841.79,1160.35 1841.79,1176.85 1827.50,1185.10 1813.21,1176.85 1813.21,1160.35" fill="#fff" stroke="#800080" stroke-width="2.0"/><clipPath id="h104"><rect x="1827.50" y="1138.60" width="30.00" height="60.00"/></clipPath><polygon points="1827.50,1152.10 1841.79,1160.35 1841.79,1176.85 1827.50,1185.10 1813.21,1176.85 1813.21,1160.35" fill="#800080" stroke="#800080" stroke-width="2.0" stroke-linejoin="round" clip-path="url(#h104)"/>
<path d="M160.50,1162.00C182.73,1164.56 204.95,1167.13 227.18,1169.50C249.41,1171.87 271.63,1174.06 293.86,1176.10C316.09,1178.14 338.31,1180.04 360.54,1178.60C382.77,1177.16 404.99,1172.40 427.22,1162.60C449.45,1152.80 471.67,1137.98 493.90,1127.20C516.13,1116.42 538.35,1109.69 560.58,1091.00C582.81,1072.31 605.03,1041.66 627.26,956.20C649.49,870.74 671.71,730.46 693.94,610.20C716.17,489.94 738.39,389.68 760.62,340.70C782.85,291.72 805.07,294.00 827.30,300.80C849.53,307.60 871.75,318.90 893.98,337.50C916.21,356.10 938.43,382.00 960.66,414.10C982.89,446.20 1005.11,484.51 1027.34,521.60C1049.57,558.69 1071.79,594.57 1094.02,628.20C1116.25,661.83 1138.47,693.22 1160.70,725.10C1182.93,756.98 1205.15,789.35 1227.38,819.90C1249.61,850.45 1271.83,879.19 1294.06,904.50C1316.29,929.81 1338.51,951.69 1360.74,970.80C1382.97,989.91 1405.19,1006.25 1427.42,1021.00C1449.65,1035.75 1471.87,1048.90 1494.10,1060.70C1516.33,1072.50 1538.55,1082.95 1560.78,1092.70C1583.01,1102.45 1605.23,1111.48 1627.46,1120.20C1649.69,1128.92 1671.91,1137.32 1694.14,1144.00C1716.37,1150.68 1738.59,1155.65 1760.82,1159.10C1783.05,1162.55 1805.27,1164.47 1827.50,1166.40" fill="none" stroke="#FF0080" stroke-width="9.7" stroke-linejoin="round"/>
<polygon points="160.50,1144.70 165.08,1155.70 176.95,1156.65 167.90,1164.41 170.67,1176.00 160.50,1169.79 150.33,1176.00 153.10,1164.41 144.05,1156.65 155.92,1155.70" fill="#FF0080" stroke="#FF0080" stroke-width="1.6" stroke-linejoin="round"/>
<polygon points="227.18,1152.20 231.76,1163.20 243.63,1164.15 234.58,1171.91 237.35,1183.50 227.18,1177.29 217.01,1183.50 219.78,1171.91 210.73,1164.15 222.60,1163.20" fill="#FF0080" stroke="#FF0080" stroke-width="1.6" stroke-linejoin="round"/>
<polygon points="293.86,1158.80 298.44,1169.80 310.31,1170.75 301.26,1178.51 304.03,1190.10 293.86,1183.88 283.69,1190.10 286.46,1178.51 277.41,1170.75 289.28,1169.80" fill="#FF0080" stroke="#FF0080" stroke-width="1.6" stroke-linejoin="round"/>
<polygon points="360.54,1161.30 365.12,1172.30 376.99,1173.25 367.94,1181.01 370.71,1192.60 360.54,1186.38 350.37,1192.60 353.14,1181.01 344.09,1173.25 355.96,1172.30" fill="#FF0080" stroke="#FF0080" stroke-width="1.6" stroke-linejoin="round"/>
<polygon points="427.22,1145.30 431.80,1156.30 443.67,1157.25 434.62,1165.01 437.39,1176.60 427.22,1170.38 417.05,1176.60 419.82,1165.01 410.77,1157.25 422.64,1156.30" fill="#FF0080" stroke="#FF0080" stroke-width="1.6" stroke-linejoin="round"/>
<polygon points="493.90,1109.90 498.48,1120.90 510.35,1121.85 501.30,1129.61 504.07,1141.20 493.90,1134.99 483.73,1141.20 486.50,1129.61 477.45,1121.85 489.32,1120.90" fill="#FF0080" stroke="#FF0080" stroke-width="1.6" stroke-linejoin="round"/>
<polygon points="560.58,1073.70 565.16,1084.70 577.03,1085.65 567.98,1093.41 570.75,1105.00 560.58,1098.79 550.41,1105.00 553.18,1093.41 544.13,1085.65 556.00,1084.70" fill="#FF0080" stroke="#FF0080" stroke-width="1.6" stroke-linejoin="round"/>
<polygon points="627.26,938.90 631.84,949.90 643.71,950.85 634.66,958.61 637.43,970.20 627.26,963.99 617.09,970.20 619.86,958.61 610.81,950.85 622.68,949.90" fill="#FF0080" stroke="#FF0080" stroke-width="1.6" stroke-linejoin="round"/>
<polygon points="693.94,592.90 698.52,603.90 710.39,604.85 701.34,612.61 704.11,624.20 693.94,617.99 683.77,624.20 686.54,612.61 677.49,604.85 689.36,603.90" fill="#FF0080" stroke="#FF0080" stroke-width="1.6" stroke-linejoin="round"/>
<polygon points="760.62,323.40 765.20,334.40 777.07,335.35 768.02,343.11 770.79,354.70 760.62,348.49 750.45,354.70 753.22,343.11 744.17,335.35 756.04,334.40" fill="#FF0080" stroke="#FF0080" stroke-width="1.6" stroke-linejoin="round"/>
<polygon points="827.30,283.50 831.88,294.50 843.75,295.45 834.70,303.21 837.47,314.80 827.30,308.59 817.13,314.80 819.90,303.21 810.85,295.45 822.72,294.50" fill="#FF0080" stroke="#FF0080" stroke-width="1.6" stroke-linejoin="round"/>
<polygon points="893.98,320.20 898.56,331.20 910.43,332.15 901.38,339.91 904.15,351.50 893.98,345.29 883.81,351.50 886.58,339.91 877.53,332.15 889.40,331.20" fill="#FF0080" stroke="#FF0080" stroke-width="1.6" stroke-linejoin="round"/>
<polygon points="960.66,396.80 965.24,407.80 977.11,408.75 968.06,416.51 970.83,428.10 960.66,421.89 950.49,428.10 953.26,416.51 944.21,408.75 956.08,407.80" fill="#FF0080" stroke="#FF0080" stroke-width="1.6" stroke-linejoin="round"/>
<polygon points="1027.34,504.30 1031.92,515.30 1043.79,516.25 1034.74,524.01 1037.51,535.60 1027.34,529.38 1017.17,535.60 1019.94,524.01 1010.89,516.25 1022.76,515.30" fill="#FF0080" stroke="#FF0080" stroke-width="1.6" stroke-linejoin="round"/>
<polygon points="1094.02,610.90 1098.60,621.90 1110.47,622.85 1101.42,630.61 1104.19,642.20 1094.02,635.99 1083.85,642.20 1086.62,630.61 1077.57,622.85 1089.44,621.90" fill="#FF0080" stroke="#FF0080" stroke-width="1.6" stroke-linejoin="round"/>
<polygon points="1160.70,707.80 1165.28,718.80 1177.15,719.75 1168.10,727.51 1170.87,739.10 1160.70,732.88 1150.53,739.10 1153.30,727.51 1144.25,719.75 1156.12,718.80" fill="#FF0080" stroke="#FF0080" stroke-width="1.6" stroke-linejoin="round"/>
<polygon points="1227.38,802.60 1231.96,813.60 1243.83,814.55 1234.78,822.31 1237.55,833.90 1227.38,827.68 1217.21,833.90 1219.98,822.31 1210.93,814.55 1222.80,813.60" fill="#FF0080" stroke="#FF0080" stroke-width="1.6" stroke-linejoin="round"/>
<polygon points="1294.06,887.20 1298.64,898.20 1310.51,899.15 1301.46,906.91 1304.23,918.50 1294.06,912.28 1283.89,918.50 1286.66,906.91 1277.61,899.15 1289.48,898.20" fill="#FF0080" stroke="#FF0080" stroke-width="1.6" stroke-linejoin="round"/>
<polygon points="1360.74,953.50 1365.32,964.50 1377.19,965.45 1368.14,973.21 1370.91,984.80 1360.74,978.58 1350.57,984.80 1353.34,973.21 1344.29,965.45 1356.16,964.50" fill="#FF0080" stroke="#FF0080" stroke-width="1.6" stroke-linejoin="round"/>
<polygon points="1427.42,1003.70 1432.00,1014.70 1443.87,1015.65 1434.82,1023.41 1437.59,1035.00 1427.42,1028.79 1417.25,1035.00 1420.02,1023.41 1410.97,1015.65 1422.84,1014.70" fill="#FF0080" stroke="#FF0080" stroke-width="1.6" stroke-linejoin="round"/>
<polygon points="1494.10,1043.40 1498.68,1054.40 1510.55,1055.35 1501.50,1063.11 1504.27,1074.70 1494.10,1068.49 1483.93,1074.70 1486.70,1063.11 1477.65,1055.35 1489.52,1054.40" fill="#FF0080" stroke="#FF0080" stroke-width="1.6" stroke-linejoin="round"/>
<polygon points="1560.78,1075.40 1565.36,1086.40 1577.23,1087.35 1568.18,1095.11 1570.95,1106.70 1560.78,1100.49 1550.61,1106.70 1553.38,1095.11 1544.33,1087.35 1556.20,1086.40" fill="#FF0080" stroke="#FF0080" stroke-width="1.6" stroke-linejoin="round"/>
<polygon points="1627.46,1102.90 1632.04,1113.90 1643.91,1114.85 1634.86,1122.61 1637.63,1134.20 1627.46,1127.99 1617.29,1134.20 1620.06,1122.61 1611.01,1114.85 1622.88,1113.90" fill="#FF0080" stroke="#FF0080" stroke-width="1.6" stroke-linejoin="round"/>
<polygon points="1694.14,1126.70 1698.72,1137.70 1710.59,1138.65 1701.54,1146.41 1704.31,1158.00 1694.14,1151.79 1683.97,1158.00 1686.74,1146.41 1677.69,1138.65 1689.56,1137.70" fill="#FF0080" stroke="#FF0080" stroke-width="1.6" stroke-linejoin="round"/>
<polygon points="1760.82,1141.80 1765.40,1152.80 1777.27,1153.75 1768.22,1161.51 1770.99,1173.10 1760.82,1166.88 1750.65,1173.10 1753.42,1161.51 1744.37,1153.75 1756.24,1152.80" fill="#FF0080" stroke="#FF0080" stroke-width="1.6" stroke-linejoin="round"/>
<polygon points="1827.50,1149.10 1832.08,1160.10 1843.95,1161.05 1834.90,1168.81 1837.67,1180.40 1827.50,1174.19 1817.33,1180.40 1820.10,1168.81 1811.05,1161.05 1822.92,1160.10" fill="#FF0080" stroke="#FF0080" stroke-width="1.6" stroke-linejoin="round"/>
</g>
<g>
<line x1="1387" y1="99.1" x2="1514" y2="99.1" stroke="#FF8000" stroke-width="9.4"/>
<rect x="1437.20" y="86.30" width="25.60" height="25.60" fill="#fff" stroke="#FF8000" stroke-width="2.0"/><rect x="1436.20" y="85.30" width="27.60" height="14.80" fill="#FF8000"/>
<line x1="1387" y1="186.4" x2="1514" y2="186.4" stroke="#FF0000" stroke-width="9.4"/>
<circle cx="1450.00" cy="186.40" r="15.35" fill="#FF0000"/>
<line x1="1387" y1="273.9" x2="1514" y2="273.9" stroke="#0000FF" stroke-width="9.4"/>
<polygon points="1450.00,253.30 1467.84,284.20 1432.16,284.20" fill="#0000FF" stroke="#0000FF" stroke-width="2.0" stroke-linejoin="round"/>
<line x1="1387" y1="345.6" x2="1514" y2="345.6" stroke="#00FF00" stroke-width="9.4"/>
<polygon points="1450.00,366.20 1432.16,335.30 1467.84,335.30" fill="#fff" stroke="#00FF00" stroke-width="2.0" stroke-linejoin="round"/><clipPath id="h105"><rect x="1420.00" y="344.40" width="60.00" height="32.00"/></clipPath><polygon points="1450.00,366.20 1432.16,335.30 1467.84,335.30" fill="#00FF00" stroke="#00FF00" stroke-width="2.0" stroke-linejoin="round" clip-path="url(#h105)"/>
<line x1="1387" y1="416.7" x2="1514" y2="416.7" stroke="#008000" stroke-width="9.4"/>
<polygon points="1450.00,397.70 1469.00,416.70 1450.00,435.70 1431.00,416.70" fill="#008000" stroke="#008000" stroke-width="1"/>
<line x1="1387" y1="488.4" x2="1514" y2="488.4" stroke="#000080" stroke-width="9.4"/>
<polygon points="1429.90,488.40 1460.05,470.99 1460.05,505.81" fill="#fff" stroke="#000080" stroke-width="2.0" stroke-linejoin="round"/><clipPath id="h106"><rect x="1420.00" y="458.40" width="31.00" height="60.00"/></clipPath><polygon points="1429.90,488.40 1460.05,470.99 1460.05,505.81" fill="#000080" stroke="#000080" stroke-width="2.0" stroke-linejoin="round" clip-path="url(#h106)"/>
<line x1="1387" y1="559.7" x2="1514" y2="559.7" stroke="#8000FF" stroke-width="9.4"/>
<polygon points="1470.10,559.70 1439.95,577.11 1439.95,542.29" fill="#fff" stroke="#8000FF" stroke-width="2.0" stroke-linejoin="round"/><clipPath id="h107"><rect x="1420.00" y="529.70" width="60.00" height="30.00"/></clipPath><polygon points="1470.10,559.70 1439.95,577.11 1439.95,542.29" fill="#8000FF" stroke="#8000FF" stroke-width="2.0" stroke-linejoin="round" clip-path="url(#h107)"/>
<line x1="1387" y1="631.5" x2="1514" y2="631.5" stroke="#800080" stroke-width="9.4"/>
<polygon points="1450.00,615.00 1464.29,623.25 1464.29,639.75 1450.00,648.00 1435.71,639.75 1435.71,623.25" fill="#fff" stroke="#800080" stroke-width="2.0"/><clipPath id="h108"><rect x="1450.00" y="601.50" width="30.00" height="60.00"/></clipPath><polygon points="1450.00,615.00 1464.29,623.25 1464.29,639.75 1450.00,648.00 1435.71,639.75 1435.71,623.25" fill="#800080" stroke="#800080" stroke-width="2.0" stroke-linejoin="round" clip-path="url(#h108)"/>
<line x1="1387" y1="702.8" x2="1514" y2="702.8" stroke="#FF0080" stroke-width="9.4"/>
<polygon points="1450.00,685.50 1454.58,696.50 1466.45,697.45 1457.40,705.21 1460.17,716.80 1450.00,710.58 1439.83,716.80 1442.60,705.21 1433.55,697.45 1445.42,696.50" fill="#FF0080" stroke="#FF0080" stroke-width="1.6" stroke-linejoin="round"/>
</g>
<g font-family="'Liberation Sans', Arial, sans-serif" font-weight="bold" fill="#000">
<text transform="translate(1530.00,118.10) scale(1,1.04)" font-size="56.8" text-anchor="start" >g-C</text>
<text transform="translate(1624.50,138.10) scale(1,1.04)" font-size="34.5" text-anchor="start" >3</text>
<text transform="translate(1644.50,118.10) scale(1,1.04)" font-size="56.8" text-anchor="start" >N</text>
<text transform="translate(1684.00,138.10) scale(1,1.04)" font-size="34.5" text-anchor="start" >4</text>
<text transform="translate(1530.00,206.20) scale(1,1.04)" font-size="56.8" text-anchor="start" >600</text>
<text transform="translate(1625.20,216.40) scale(1,1.04)" font-size="72" text-anchor="start" >°</text>
<text transform="translate(1652.2,206.4) scale(1,1.072)" font-size="56.8">C</text>
<text transform="translate(1698.00,206.20) scale(1,1.04)" font-size="56.8" text-anchor="start" >TiO</text>
<text transform="translate(1792.00,225.80) scale(1,1.04)" font-size="34.5" text-anchor="start" >2</text>
<text transform="translate(1530.00,294.20) scale(1,1.04)" font-size="56.8" text-anchor="start" >CNT1</text>
<text transform="translate(1530.00,365.90) scale(1,1.04)" font-size="56.8" text-anchor="start" >CNT2</text>
<text transform="translate(1530.00,437.00) scale(1,1.04)" font-size="56.8" text-anchor="start" >CNT3</text>
<text transform="translate(1530.00,508.70) scale(1,1.04)" font-size="56.8" text-anchor="start" >CNT4</text>
<text transform="translate(1530.00,580.00) scale(1,1.04)" font-size="56.8" text-anchor="start" >CNT5</text>
<text transform="translate(1530.00,651.80) scale(1,1.04)" font-size="56.8" text-anchor="start" >CNT6</text>
<text transform="translate(1530.00,723.10) scale(1,1.04)" font-size="56.8" text-anchor="start" >CNT7</text>
<text transform="translate(160.50,1344.80) scale(1,1.04)" font-size="66.5" text-anchor="middle" >350</text>
<text transform="translate(493.90,1344.80) scale(1,1.04)" font-size="66.5" text-anchor="middle" >400</text>
<text transform="translate(827.30,1344.80) scale(1,1.04)" font-size="66.5" text-anchor="middle" >450</text>
<text transform="translate(1160.70,1344.80) scale(1,1.04)" font-size="66.5" text-anchor="middle" >500</text>
<text transform="translate(1494.10,1344.80) scale(1,1.04)" font-size="66.5" text-anchor="middle" >550</text>
<text transform="translate(1827.50,1344.80) scale(1,1.04)" font-size="66.5" text-anchor="middle" >600</text>
<text transform="translate(994.60,1454.50) scale(1,1.04)" font-size="79.1" text-anchor="middle" >Wavelength (nm)</text>
<text transform="translate(70.6,605.4) rotate(-90) scale(1,1.04)" font-size="78.2" text-anchor="middle">Intensity (a.u)</text>
</g>
</svg>
</body></html>
